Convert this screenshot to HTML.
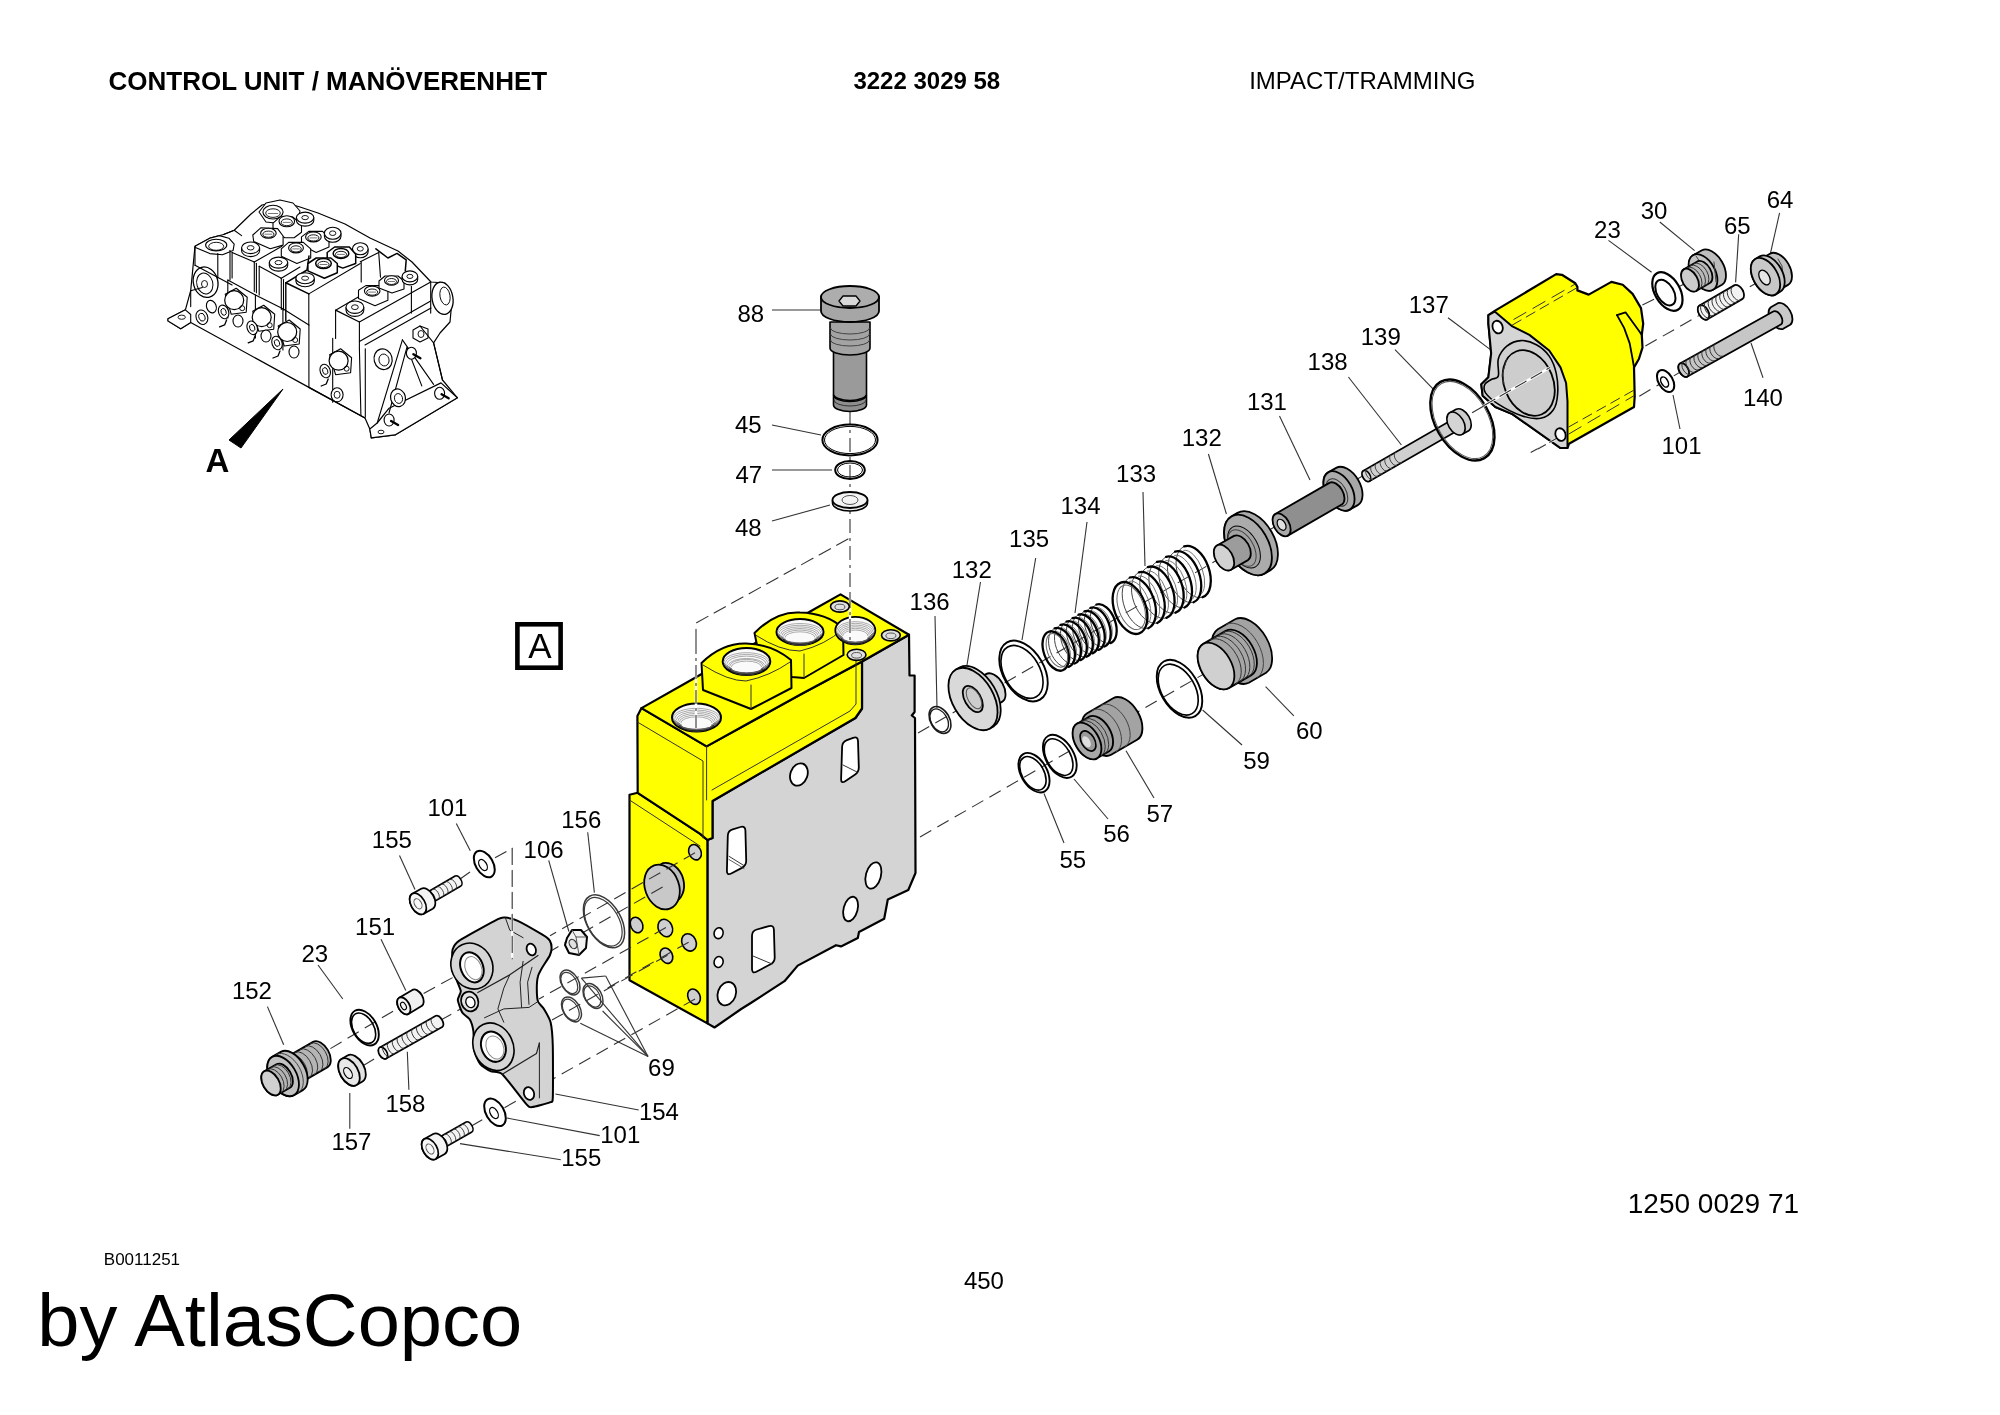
<!DOCTYPE html>
<html><head><meta charset="utf-8"><style>
html,body{margin:0;padding:0;background:#fff;}
svg{display:block;}
text{font-family:"Liberation Sans",sans-serif;fill:#000;}
</style></head><body>
<svg width="2000" height="1415" viewBox="0 0 2000 1415">
<rect width="2000" height="1415" fill="#fff"/>
<line x1="772.0" y1="310.0" x2="820.0" y2="310.0" stroke="#333" stroke-width="1.1" />
<line x1="772.0" y1="425.0" x2="821.0" y2="435.0" stroke="#333" stroke-width="1.1" />
<line x1="772.0" y1="470.0" x2="832.0" y2="470.0" stroke="#333" stroke-width="1.1" />
<line x1="772.0" y1="521.0" x2="830.0" y2="505.0" stroke="#333" stroke-width="1.1" />
<line x1="1208.4" y1="454.0" x2="1226.4" y2="514.0" stroke="#333" stroke-width="1.1" />
<line x1="1143.0" y1="492.0" x2="1145.0" y2="566.0" stroke="#333" stroke-width="1.1" />
<line x1="1087.0" y1="522.0" x2="1075.0" y2="613.0" stroke="#333" stroke-width="1.1" />
<line x1="1035.7" y1="558.0" x2="1022.0" y2="640.0" stroke="#333" stroke-width="1.1" />
<line x1="980.5" y1="582.0" x2="967.0" y2="665.0" stroke="#333" stroke-width="1.1" />
<line x1="935.0" y1="616.0" x2="937.0" y2="708.0" stroke="#333" stroke-width="1.1" />
<line x1="1265.6" y1="686.6" x2="1293.8" y2="715.9" stroke="#333" stroke-width="1.1" />
<line x1="1202.6" y1="710.0" x2="1242.0" y2="745.0" stroke="#333" stroke-width="1.1" />
<line x1="1126.0" y1="750.8" x2="1154.0" y2="798.0" stroke="#333" stroke-width="1.1" />
<line x1="1074.0" y1="779.0" x2="1108.0" y2="819.0" stroke="#333" stroke-width="1.1" />
<line x1="1044.0" y1="793.5" x2="1064.0" y2="843.0" stroke="#333" stroke-width="1.1" />
<line x1="1448.0" y1="317.8" x2="1490.4" y2="349.6" stroke="#333" stroke-width="1.1" />
<line x1="1395.0" y1="349.6" x2="1433.0" y2="388.8" stroke="#333" stroke-width="1.1" />
<line x1="1348.4" y1="377.0" x2="1401.4" y2="445.0" stroke="#333" stroke-width="1.1" />
<line x1="1279.5" y1="416.0" x2="1310.0" y2="480.0" stroke="#333" stroke-width="1.1" />
<line x1="1779.6" y1="212.8" x2="1769.4" y2="257.9" stroke="#333" stroke-width="1.1" />
<line x1="1659.8" y1="222.0" x2="1694.6" y2="250.7" stroke="#333" stroke-width="1.1" />
<line x1="1738.7" y1="234.3" x2="1735.6" y2="282.4" stroke="#333" stroke-width="1.1" />
<line x1="1608.5" y1="240.4" x2="1651.6" y2="272.2" stroke="#333" stroke-width="1.1" />
<line x1="1751.0" y1="343.0" x2="1763.0" y2="377.7" stroke="#333" stroke-width="1.1" />
<line x1="1673.0" y1="395.0" x2="1680.0" y2="429.0" stroke="#333" stroke-width="1.1" />
<line x1="456.3" y1="823.5" x2="470.3" y2="850.7" stroke="#333" stroke-width="1.1" />
<line x1="399.5" y1="855.4" x2="415.0" y2="889.6" stroke="#333" stroke-width="1.1" />
<line x1="381.0" y1="939.3" x2="405.8" y2="990.6" stroke="#333" stroke-width="1.1" />
<line x1="318.0" y1="965.0" x2="342.8" y2="999.0" stroke="#333" stroke-width="1.1" />
<line x1="267.4" y1="1006.6" x2="283.7" y2="1044.7" stroke="#333" stroke-width="1.1" />
<line x1="407.3" y1="1051.7" x2="408.9" y2="1089.8" stroke="#333" stroke-width="1.1" />
<line x1="349.8" y1="1093.0" x2="349.8" y2="1128.7" stroke="#333" stroke-width="1.1" />
<line x1="587.7" y1="832.2" x2="594.4" y2="892.6" stroke="#333" stroke-width="1.1" />
<line x1="548.7" y1="860.4" x2="568.9" y2="931.5" stroke="#333" stroke-width="1.1" />
<line x1="555.4" y1="1094.0" x2="638.7" y2="1110.0" stroke="#333" stroke-width="1.1" />
<line x1="507.0" y1="1118.0" x2="599.7" y2="1135.6" stroke="#333" stroke-width="1.1" />
<line x1="460.0" y1="1143.6" x2="560.8" y2="1159.7" stroke="#333" stroke-width="1.1" />
<line x1="648.0" y1="1056.4" x2="581.4" y2="978.1" stroke="#333" stroke-width="1.1" />
<line x1="648.0" y1="1056.4" x2="605.7" y2="976.0" stroke="#333" stroke-width="1.1" />
<line x1="581.4" y1="978.1" x2="605.7" y2="976.0" stroke="#333" stroke-width="1.1" />
<line x1="648.0" y1="1056.4" x2="602.6" y2="1011.0" stroke="#333" stroke-width="1.1" />
<line x1="648.0" y1="1056.4" x2="580.3" y2="1023.2" stroke="#333" stroke-width="1.1" />
<rect x="517.4" y="624.3" width="43.2" height="43.4" fill="none" stroke="#000" stroke-width="4.6"/>
<polygon points="168.0,318.8 185.4,309.8 190.7,290.7 195.0,246.2 209.8,238.2 223.6,234.5 234.2,230.3 251.0,214.0 262.0,205.0 280.0,201.0 300.0,207.0 318.0,213.0 345.0,224.0 370.0,238.0 398.0,251.0 412.0,262.0 431.0,282.0 445.0,283.0 452.0,300.0 450.0,322.0 440.0,333.0 433.6,342.8 442.5,380.0 457.4,397.8 395.0,434.9 371.3,437.9 369.8,429.0 365.0,418.0 308.9,387.4 190.7,322.5 180.7,328.8 168.0,320.9" fill="#fff" stroke="#000" stroke-width="1.2" stroke-linejoin="round" />
<polygon points="195.0,246.2 209.8,238.2 219.4,235.6 228.9,238.2 234.2,244.1 233.1,250.4 222.5,254.7 209.8,253.6 196.0,247.8" fill="#fff" stroke="#000" stroke-width="1.1" stroke-linejoin="round" />
<ellipse cx="216.2" cy="245.1" rx="10.6" ry="5.8" transform="rotate(0.0 216.2 245.1)" fill="#fff" stroke="#000" stroke-width="1.1"/>
<ellipse cx="216.2" cy="246.3" rx="7.5" ry="4.0" transform="rotate(0.0 216.2 246.3)" fill="none" stroke="#000" stroke-width="0.9"/>
<polyline points="195.0,247.2 195.0,265.3" fill="none" stroke="#000" stroke-width="1.1" stroke-linejoin="round" stroke-linecap="round" />
<polyline points="217.8,253.6 217.8,278.0" fill="none" stroke="#000" stroke-width="1.1" stroke-linejoin="round" stroke-linecap="round" />
<polyline points="230.0,250.4 230.0,280.0" fill="none" stroke="#000" stroke-width="1.1" stroke-linejoin="round" stroke-linecap="round" />
<polyline points="223.6,234.5 234.2,230.3 241.6,235.6" fill="none" stroke="#000" stroke-width="1.1" stroke-linejoin="round" stroke-linecap="round" />
<ellipse cx="205.6" cy="282.2" rx="12.2" ry="15.4" transform="rotate(-15.0 205.6 282.2)" fill="#fff" stroke="#000" stroke-width="1.3"/>
<ellipse cx="204.8" cy="283.5" rx="8.0" ry="10.6" transform="rotate(-15.0 204.8 283.5)" fill="none" stroke="#000" stroke-width="1.0"/>
<ellipse cx="204.5" cy="284.0" rx="3.0" ry="3.5" transform="rotate(0.0 204.5 284.0)" fill="none" stroke="#000" stroke-width="0.9"/>
<polyline points="190.7,290.7 190.7,306.6" fill="none" stroke="#000" stroke-width="1.1" stroke-linejoin="round" stroke-linecap="round" />
<polyline points="190.7,290.7 202.4,287.5" fill="none" stroke="#000" stroke-width="1.1" stroke-linejoin="round" stroke-linecap="round" />
<polygon points="168.0,318.8 185.4,309.8 190.7,314.5 190.7,322.5 180.7,328.8 168.0,320.9" fill="#fff" stroke="#000" stroke-width="1.1" stroke-linejoin="round" />
<ellipse cx="181.7" cy="317.2" rx="3.7" ry="2.1" transform="rotate(0.0 181.7 317.2)" fill="none" stroke="#000" stroke-width="0.9"/>
<ellipse cx="211.4" cy="306.6" rx="4.8" ry="6.4" transform="rotate(-20.0 211.4 306.6)" fill="#fff" stroke="#000" stroke-width="1.1"/>
<ellipse cx="201.9" cy="317.2" rx="5.8" ry="7.4" transform="rotate(-20.0 201.9 317.2)" fill="#fff" stroke="#000" stroke-width="1.1"/>
<ellipse cx="201.9" cy="317.2" rx="3.0" ry="4.0" transform="rotate(-20.0 201.9 317.2)" fill="none" stroke="#000" stroke-width="0.9"/>
<polygon points="259.0,212.0 266.0,203.0 280.0,200.0 293.0,203.0 300.0,211.0 298.0,220.0 284.0,224.0 266.0,222.0" fill="#fff" stroke="#000" stroke-width="1.1" stroke-linejoin="round" />
<ellipse cx="273.0" cy="212.1" rx="10.1" ry="6.9" transform="rotate(0.0 273.0 212.1)" fill="#fff" stroke="#000" stroke-width="1.1"/>
<ellipse cx="273.0" cy="213.1" rx="7.3" ry="4.3" transform="rotate(0.0 273.0 213.1)" fill="none" stroke="#000" stroke-width="0.9"/>
<line x1="267.9" y1="213.5" x2="278.1" y2="213.5" stroke="#555" stroke-width="0.8" />
<polygon points="273.0,223.1 280.3,216.7 292.3,216.7 301.5,224.0 301.5,232.3 294.1,237.8 284.9,237.8 273.0,230.4" fill="#fff" stroke="#000" stroke-width="1.1" stroke-linejoin="round" />
<ellipse cx="286.8" cy="221.3" rx="7.8" ry="5.5" transform="rotate(0.0 286.8 221.3)" fill="#fff" stroke="#000" stroke-width="1.1"/>
<ellipse cx="286.8" cy="222.3" rx="5.6" ry="3.4" transform="rotate(0.0 286.8 222.3)" fill="none" stroke="#000" stroke-width="0.9"/>
<line x1="282.9" y1="222.4" x2="290.7" y2="222.4" stroke="#555" stroke-width="0.8" />
<path d="M296.4,217.6 L296.4,220.6 A8.7,5.5 0 0 0 313.8,220.6 L313.8,217.6" fill="#fff" stroke="#000" stroke-width="1.1" stroke-linejoin="round" />
<ellipse cx="305.1" cy="217.6" rx="8.7" ry="5.5" transform="rotate(0.0 305.1 217.6)" fill="#fff" stroke="#000" stroke-width="1.1"/>
<ellipse cx="305.1" cy="217.6" rx="3.3" ry="2.1" transform="rotate(0.0 305.1 217.6)" fill="none" stroke="#000" stroke-width="0.9"/>
<polygon points="252.8,235.0 261.0,227.7 277.6,228.6 283.1,236.0 283.1,245.1 270.2,248.8 253.7,241.5" fill="#fff" stroke="#000" stroke-width="1.1" stroke-linejoin="round" />
<ellipse cx="268.4" cy="233.2" rx="7.8" ry="5.0" transform="rotate(0.0 268.4 233.2)" fill="#fff" stroke="#000" stroke-width="1.1"/>
<ellipse cx="268.4" cy="234.2" rx="5.6" ry="3.1" transform="rotate(0.0 268.4 234.2)" fill="none" stroke="#000" stroke-width="0.9"/>
<line x1="264.5" y1="234.2" x2="272.3" y2="234.2" stroke="#555" stroke-width="0.8" />
<polygon points="301.5,236.9 308.8,231.4 322.6,231.4 329.0,237.8 329.0,247.0 316.2,252.5 301.5,245.1" fill="#fff" stroke="#000" stroke-width="1.1" stroke-linejoin="round" />
<ellipse cx="313.4" cy="236.9" rx="7.8" ry="5.0" transform="rotate(0.0 313.4 236.9)" fill="#fff" stroke="#000" stroke-width="1.1"/>
<ellipse cx="313.4" cy="237.9" rx="5.6" ry="3.1" transform="rotate(0.0 313.4 237.9)" fill="none" stroke="#000" stroke-width="0.9"/>
<line x1="309.5" y1="237.9" x2="317.3" y2="237.9" stroke="#555" stroke-width="0.8" />
<path d="M324.4,233.2 L324.4,236.2 A8.3,6.0 0 0 0 341.0,236.2 L341.0,233.2" fill="#fff" stroke="#000" stroke-width="1.1" stroke-linejoin="round" />
<ellipse cx="332.7" cy="233.2" rx="8.3" ry="6.0" transform="rotate(0.0 332.7 233.2)" fill="#fff" stroke="#000" stroke-width="1.1"/>
<ellipse cx="332.7" cy="233.2" rx="3.2" ry="2.3" transform="rotate(0.0 332.7 233.2)" fill="none" stroke="#000" stroke-width="0.9"/>
<path d="M241.6,247.8 L241.6,250.8 A9.0,5.8 0 0 0 259.6,250.8 L259.6,247.8" fill="#fff" stroke="#000" stroke-width="1.1" stroke-linejoin="round" />
<ellipse cx="250.6" cy="247.8" rx="9.0" ry="5.8" transform="rotate(0.0 250.6 247.8)" fill="#fff" stroke="#000" stroke-width="1.1"/>
<ellipse cx="250.6" cy="247.8" rx="3.4" ry="2.2" transform="rotate(0.0 250.6 247.8)" fill="none" stroke="#000" stroke-width="0.9"/>
<polygon points="281.3,248.8 288.6,242.4 303.3,242.4 310.7,248.8 310.7,258.0 296.9,263.5 281.3,256.2" fill="#fff" stroke="#000" stroke-width="1.1" stroke-linejoin="round" />
<ellipse cx="296.0" cy="247.9" rx="7.4" ry="5.0" transform="rotate(0.0 296.0 247.9)" fill="#fff" stroke="#000" stroke-width="1.1"/>
<ellipse cx="296.0" cy="248.9" rx="5.3" ry="3.1" transform="rotate(0.0 296.0 248.9)" fill="none" stroke="#000" stroke-width="0.9"/>
<line x1="292.3" y1="248.9" x2="299.7" y2="248.9" stroke="#555" stroke-width="0.8" />
<path d="M269.3,262.6 L269.3,265.6 A9.2,5.5 0 0 0 287.7,265.6 L287.7,262.6" fill="#fff" stroke="#000" stroke-width="1.1" stroke-linejoin="round" />
<ellipse cx="278.5" cy="262.6" rx="9.2" ry="5.5" transform="rotate(0.0 278.5 262.6)" fill="#fff" stroke="#000" stroke-width="1.1"/>
<ellipse cx="278.5" cy="262.6" rx="3.5" ry="2.1" transform="rotate(0.0 278.5 262.6)" fill="none" stroke="#000" stroke-width="0.9"/>
<path d="M352.5,248.8 L352.5,251.8 A7.8,6.0 0 0 0 368.1,251.8 L368.1,248.8" fill="#fff" stroke="#000" stroke-width="1.1" stroke-linejoin="round" />
<ellipse cx="360.3" cy="248.8" rx="7.8" ry="6.0" transform="rotate(0.0 360.3 248.8)" fill="#fff" stroke="#000" stroke-width="1.1"/>
<ellipse cx="360.3" cy="248.8" rx="3.0" ry="2.3" transform="rotate(0.0 360.3 248.8)" fill="none" stroke="#000" stroke-width="0.9"/>
<polyline points="232.1,252.5 254.3,262.1" fill="none" stroke="#000" stroke-width="1.1" stroke-linejoin="round" stroke-linecap="round" />
<polyline points="232.1,252.5 232.1,278.0" fill="none" stroke="#000" stroke-width="1.1" stroke-linejoin="round" stroke-linecap="round" />
<polyline points="254.3,262.1 254.3,291.6" fill="none" stroke="#000" stroke-width="1.1" stroke-linejoin="round" stroke-linecap="round" />
<polyline points="256.4,263.2 256.4,292.7" fill="none" stroke="#000" stroke-width="1.1" stroke-linejoin="round" stroke-linecap="round" />
<polyline points="254.3,262.1 281.9,246.2" fill="none" stroke="#000" stroke-width="1.1" stroke-linejoin="round" stroke-linecap="round" />
<polyline points="259.2,266.3 281.3,278.2" fill="none" stroke="#000" stroke-width="1.1" stroke-linejoin="round" stroke-linecap="round" />
<polyline points="259.2,266.3 259.2,295.0" fill="none" stroke="#000" stroke-width="1.1" stroke-linejoin="round" stroke-linecap="round" />
<polyline points="281.3,278.2 281.3,309.5" fill="none" stroke="#000" stroke-width="1.1" stroke-linejoin="round" stroke-linecap="round" />
<polyline points="283.5,279.5 283.5,310.0" fill="none" stroke="#000" stroke-width="1.1" stroke-linejoin="round" stroke-linecap="round" />
<polyline points="281.3,278.2 300.0,267.0" fill="none" stroke="#000" stroke-width="1.1" stroke-linejoin="round" stroke-linecap="round" />
<polyline points="285.8,282.8 308.8,293.9" fill="none" stroke="#000" stroke-width="1.5" stroke-linejoin="round" stroke-linecap="round" />
<polyline points="285.8,282.8 285.8,320.5" fill="none" stroke="#000" stroke-width="1.4" stroke-linejoin="round" stroke-linecap="round" />
<polyline points="308.8,293.9 308.8,325.0" fill="none" stroke="#000" stroke-width="1.1" stroke-linejoin="round" stroke-linecap="round" />
<polyline points="308.8,293.9 360.3,263.5" fill="none" stroke="#000" stroke-width="1.1" stroke-linejoin="round" stroke-linecap="round" />
<polyline points="285.8,282.8 307.0,270.0 309.0,256.0" fill="none" stroke="#000" stroke-width="1.5" stroke-linejoin="round" stroke-linecap="round" />
<polygon points="327.2,252.5 334.6,247.0 349.3,247.0 355.7,254.3 355.7,263.5 342.8,268.1 327.2,261.7" fill="#fff" stroke="#000" stroke-width="1.5" stroke-linejoin="round" />
<ellipse cx="341.0" cy="253.4" rx="7.8" ry="5.0" transform="rotate(0.0 341.0 253.4)" fill="#fff" stroke="#000" stroke-width="1.5"/>
<ellipse cx="341.0" cy="254.4" rx="5.6" ry="3.1" transform="rotate(0.0 341.0 254.4)" fill="none" stroke="#000" stroke-width="0.9"/>
<line x1="337.1" y1="254.4" x2="344.9" y2="254.4" stroke="#555" stroke-width="0.8" />
<polygon points="307.9,263.5 316.2,258.0 330.9,258.0 337.3,263.5 337.3,272.7 324.4,278.2 307.9,270.9" fill="#fff" stroke="#000" stroke-width="1.5" stroke-linejoin="round" />
<ellipse cx="323.5" cy="263.5" rx="7.8" ry="5.0" transform="rotate(0.0 323.5 263.5)" fill="#fff" stroke="#000" stroke-width="1.5"/>
<ellipse cx="323.5" cy="264.5" rx="5.6" ry="3.1" transform="rotate(0.0 323.5 264.5)" fill="none" stroke="#000" stroke-width="0.9"/>
<line x1="319.6" y1="264.5" x2="327.4" y2="264.5" stroke="#555" stroke-width="0.8" />
<path d="M295.9,278.2 L295.9,281.2 A9.2,5.5 0 0 0 314.3,281.2 L314.3,278.2" fill="#fff" stroke="#000" stroke-width="1.1" stroke-linejoin="round" />
<ellipse cx="305.1" cy="278.2" rx="9.2" ry="5.5" transform="rotate(0.0 305.1 278.2)" fill="#fff" stroke="#000" stroke-width="1.1"/>
<ellipse cx="305.1" cy="278.2" rx="3.5" ry="2.1" transform="rotate(0.0 305.1 278.2)" fill="none" stroke="#000" stroke-width="0.9"/>
<polyline points="361.2,261.7 361.2,281.9" fill="none" stroke="#000" stroke-width="1.1" stroke-linejoin="round" stroke-linecap="round" />
<polyline points="360.3,261.7 378.7,252.5" fill="none" stroke="#000" stroke-width="1.1" stroke-linejoin="round" stroke-linecap="round" />
<polyline points="378.7,252.5 380.5,277.3" fill="none" stroke="#000" stroke-width="1.1" stroke-linejoin="round" stroke-linecap="round" />
<polyline points="375.9,248.8 387.9,258.0 397.0,253.4 406.2,259.8 405.3,270.9" fill="none" stroke="#000" stroke-width="1.5" stroke-linejoin="round" stroke-linecap="round" />
<polyline points="335.6,310.2 359.4,322.0" fill="none" stroke="#000" stroke-width="1.3" stroke-linejoin="round" stroke-linecap="round" />
<polyline points="335.6,310.2 335.6,338.4" fill="none" stroke="#000" stroke-width="1.1" stroke-linejoin="round" stroke-linecap="round" />
<polyline points="359.4,322.0 359.4,348.8" fill="none" stroke="#000" stroke-width="1.1" stroke-linejoin="round" stroke-linecap="round" />
<polyline points="359.4,322.0 430.7,282.0" fill="none" stroke="#000" stroke-width="1.1" stroke-linejoin="round" stroke-linecap="round" />
<polyline points="335.6,310.2 360.0,296.0" fill="none" stroke="#000" stroke-width="1.1" stroke-linejoin="round" stroke-linecap="round" />
<path d="M346.0,307.2 L346.0,310.2 A8.9,6.2 0 0 0 363.8,310.2 L363.8,307.2" fill="#fff" stroke="#000" stroke-width="1.1" stroke-linejoin="round" />
<ellipse cx="354.9" cy="307.2" rx="8.9" ry="6.2" transform="rotate(0.0 354.9 307.2)" fill="#fff" stroke="#000" stroke-width="1.1"/>
<ellipse cx="354.9" cy="307.2" rx="3.4" ry="2.4" transform="rotate(0.0 354.9 307.2)" fill="none" stroke="#000" stroke-width="0.9"/>
<polygon points="358.5,290.2 365.8,285.6 380.5,285.6 387.9,291.1 387.9,300.3 375.0,305.8 358.5,298.5" fill="#fff" stroke="#000" stroke-width="1.1" stroke-linejoin="round" />
<ellipse cx="372.2" cy="291.1" rx="7.8" ry="5.0" transform="rotate(0.0 372.2 291.1)" fill="#fff" stroke="#000" stroke-width="1.1"/>
<ellipse cx="372.2" cy="292.1" rx="5.6" ry="3.1" transform="rotate(0.0 372.2 292.1)" fill="none" stroke="#000" stroke-width="0.9"/>
<line x1="368.3" y1="292.1" x2="376.1" y2="292.1" stroke="#555" stroke-width="0.8" />
<polygon points="379.0,281.0 385.0,276.0 398.0,276.0 404.0,281.0 404.0,289.0 392.0,293.0 379.0,288.0" fill="#fff" stroke="#000" stroke-width="1.1" stroke-linejoin="round" />
<ellipse cx="391.5" cy="280.5" rx="7.0" ry="4.8" transform="rotate(0.0 391.5 280.5)" fill="#fff" stroke="#000" stroke-width="1.1"/>
<ellipse cx="391.5" cy="281.5" rx="5.0" ry="3.0" transform="rotate(0.0 391.5 281.5)" fill="none" stroke="#000" stroke-width="0.9"/>
<line x1="388.0" y1="281.5" x2="395.0" y2="281.5" stroke="#555" stroke-width="0.8" />
<path d="M402.1,276.4 L402.1,279.4 A7.8,5.5 0 0 0 417.7,279.4 L417.7,276.4" fill="#fff" stroke="#000" stroke-width="1.1" stroke-linejoin="round" />
<ellipse cx="409.9" cy="276.4" rx="7.8" ry="5.5" transform="rotate(0.0 409.9 276.4)" fill="#fff" stroke="#000" stroke-width="1.1"/>
<ellipse cx="409.9" cy="276.4" rx="3.0" ry="2.1" transform="rotate(0.0 409.9 276.4)" fill="none" stroke="#000" stroke-width="0.9"/>
<polyline points="411.4,286.4 411.4,313.1" fill="none" stroke="#000" stroke-width="1.1" stroke-linejoin="round" stroke-linecap="round" />
<polyline points="430.7,282.0 430.7,313.1" fill="none" stroke="#000" stroke-width="1.1" stroke-linejoin="round" stroke-linecap="round" />
<polyline points="359.4,341.4 430.7,301.0" fill="none" stroke="#000" stroke-width="1.1" stroke-linejoin="round" stroke-linecap="round" />
<polyline points="365.0,345.0 431.0,308.0" fill="none" stroke="#000" stroke-width="1.1" stroke-linejoin="round" stroke-linecap="round" />
<ellipse cx="442.5" cy="298.3" rx="10.4" ry="16.3" transform="rotate(-10.0 442.5 298.3)" fill="#fff" stroke="#000" stroke-width="1.3"/>
<ellipse cx="445.0" cy="296.0" rx="5.0" ry="9.0" transform="rotate(-10.0 445.0 296.0)" fill="none" stroke="#000" stroke-width="0.9"/>
<polygon points="413.0,330.0 420.0,326.0 428.0,329.0 428.0,338.0 420.0,342.0 413.0,338.0" fill="#fff" stroke="#000" stroke-width="1.1" stroke-linejoin="round" />
<ellipse cx="421.0" cy="334.0" rx="3.0" ry="3.5" transform="rotate(0.0 421.0 334.0)" fill="none" stroke="#000" stroke-width="0.9"/>
<polyline points="195.0,265.3 232.1,285.0" fill="none" stroke="#000" stroke-width="1.1" stroke-linejoin="round" stroke-linecap="round" />
<polyline points="227.8,280.1 255.4,294.9 282.9,308.7 308.9,325.0" fill="none" stroke="#000" stroke-width="1.1" stroke-linejoin="round" stroke-linecap="round" />
<polyline points="308.9,325.0 308.9,387.4" fill="none" stroke="#000" stroke-width="1.1" stroke-linejoin="round" stroke-linecap="round" />
<polyline points="332.7,338.4 332.7,402.2" fill="none" stroke="#000" stroke-width="1.1" stroke-linejoin="round" stroke-linecap="round" />
<polyline points="359.4,348.8 360.9,415.6" fill="none" stroke="#000" stroke-width="1.1" stroke-linejoin="round" stroke-linecap="round" />
<polyline points="365.3,348.8 365.3,417.0" fill="none" stroke="#000" stroke-width="1.1" stroke-linejoin="round" stroke-linecap="round" />
<polyline points="282.9,308.7 282.9,350.0" fill="none" stroke="#000" stroke-width="1.1" stroke-linejoin="round" stroke-linecap="round" />
<polyline points="255.4,294.9 255.4,338.0" fill="none" stroke="#000" stroke-width="1.1" stroke-linejoin="round" stroke-linecap="round" />
<polyline points="227.8,280.1 227.8,318.0" fill="none" stroke="#000" stroke-width="1.1" stroke-linejoin="round" stroke-linecap="round" />
<path d="M225.2,294.2 L236.2,288.2 L247.2,297.2 L246.2,312.2 L231.2,314.2 Z" fill="#fff" stroke="#000" stroke-width="1.1" stroke-linejoin="round" />
<ellipse cx="234.2" cy="300.2" rx="9.5" ry="9.5" transform="rotate(0.0 234.2 300.2)" fill="#fff" stroke="#000" stroke-width="1.2"/>
<ellipse cx="223.6" cy="311.9" rx="5.0" ry="7.0" transform="rotate(-20.0 223.6 311.9)" fill="#fff" stroke="#000" stroke-width="1.1"/>
<ellipse cx="223.6" cy="311.9" rx="2.5" ry="3.5" transform="rotate(-20.0 223.6 311.9)" fill="none" stroke="#000" stroke-width="0.9"/>
<polyline points="226.6,319.9 224.6,324.9 219.6,326.9" fill="none" stroke="#000" stroke-width="1.3" stroke-linejoin="round" stroke-linecap="round" />
<ellipse cx="242.2" cy="308.2" rx="2.5" ry="2.5" transform="rotate(0.0 242.2 308.2)" fill="none" stroke="#000" stroke-width="0.9"/>
<path d="M252.7,311.2 L263.7,305.2 L274.7,314.2 L273.7,329.2 L258.7,331.2 Z" fill="#fff" stroke="#000" stroke-width="1.1" stroke-linejoin="round" />
<ellipse cx="261.7" cy="317.2" rx="9.5" ry="9.5" transform="rotate(0.0 261.7 317.2)" fill="#fff" stroke="#000" stroke-width="1.2"/>
<ellipse cx="252.2" cy="327.8" rx="5.0" ry="7.0" transform="rotate(-20.0 252.2 327.8)" fill="#fff" stroke="#000" stroke-width="1.1"/>
<ellipse cx="252.2" cy="327.8" rx="2.5" ry="3.5" transform="rotate(-20.0 252.2 327.8)" fill="none" stroke="#000" stroke-width="0.9"/>
<polyline points="255.2,335.8 253.2,340.8 248.2,342.8" fill="none" stroke="#000" stroke-width="1.3" stroke-linejoin="round" stroke-linecap="round" />
<ellipse cx="269.7" cy="325.2" rx="2.5" ry="2.5" transform="rotate(0.0 269.7 325.2)" fill="none" stroke="#000" stroke-width="0.9"/>
<path d="M278.2,326.0 L289.2,320.0 L300.2,329.0 L299.2,344.0 L284.2,346.0 Z" fill="#fff" stroke="#000" stroke-width="1.1" stroke-linejoin="round" />
<ellipse cx="287.2" cy="332.0" rx="9.5" ry="9.5" transform="rotate(0.0 287.2 332.0)" fill="#fff" stroke="#000" stroke-width="1.2"/>
<ellipse cx="277.0" cy="343.0" rx="5.0" ry="7.0" transform="rotate(-20.0 277.0 343.0)" fill="#fff" stroke="#000" stroke-width="1.1"/>
<ellipse cx="277.0" cy="343.0" rx="2.5" ry="3.5" transform="rotate(-20.0 277.0 343.0)" fill="none" stroke="#000" stroke-width="0.9"/>
<polyline points="280.0,351.0 278.0,356.0 273.0,358.0" fill="none" stroke="#000" stroke-width="1.3" stroke-linejoin="round" stroke-linecap="round" />
<ellipse cx="295.2" cy="340.0" rx="2.5" ry="2.5" transform="rotate(0.0 295.2 340.0)" fill="none" stroke="#000" stroke-width="0.9"/>
<path d="M329.6,354.7 L340.6,348.7 L351.6,357.7 L350.6,372.7 L335.6,374.7 Z" fill="#fff" stroke="#000" stroke-width="1.1" stroke-linejoin="round" />
<ellipse cx="338.6" cy="360.7" rx="9.5" ry="9.5" transform="rotate(0.0 338.6 360.7)" fill="#fff" stroke="#000" stroke-width="1.2"/>
<ellipse cx="325.2" cy="371.0" rx="5.0" ry="7.0" transform="rotate(-20.0 325.2 371.0)" fill="#fff" stroke="#000" stroke-width="1.1"/>
<ellipse cx="325.2" cy="371.0" rx="2.5" ry="3.5" transform="rotate(-20.0 325.2 371.0)" fill="none" stroke="#000" stroke-width="0.9"/>
<polyline points="328.2,379.0 326.2,384.0 321.2,386.0" fill="none" stroke="#000" stroke-width="1.3" stroke-linejoin="round" stroke-linecap="round" />
<ellipse cx="346.6" cy="368.7" rx="2.5" ry="2.5" transform="rotate(0.0 346.6 368.7)" fill="none" stroke="#000" stroke-width="0.9"/>
<ellipse cx="337.1" cy="394.8" rx="6.0" ry="7.0" transform="rotate(0.0 337.1 394.8)" fill="#fff" stroke="#000" stroke-width="1.1"/>
<ellipse cx="337.1" cy="394.8" rx="3.0" ry="3.5" transform="rotate(0.0 337.1 394.8)" fill="none" stroke="#000" stroke-width="0.9"/>
<ellipse cx="238.0" cy="321.0" rx="5.0" ry="6.0" transform="rotate(0.0 238.0 321.0)" fill="#fff" stroke="#000" stroke-width="1.1"/>
<ellipse cx="266.0" cy="336.0" rx="5.0" ry="6.0" transform="rotate(0.0 266.0 336.0)" fill="#fff" stroke="#000" stroke-width="1.1"/>
<ellipse cx="294.0" cy="352.0" rx="5.0" ry="6.0" transform="rotate(0.0 294.0 352.0)" fill="#fff" stroke="#000" stroke-width="1.1"/>
<polyline points="308.9,387.4 365.0,418.0" fill="none" stroke="#000" stroke-width="1.2" stroke-linejoin="round" stroke-linecap="round" />
<polygon points="377.2,423.0 389.1,408.2 441.0,382.9 457.4,397.8 395.0,434.9 371.3,437.9 369.8,429.0" fill="#fff" stroke="#000" stroke-width="1.2" stroke-linejoin="round" />
<polyline points="377.2,423.0 402.4,339.9" fill="none" stroke="#000" stroke-width="1.1" stroke-linejoin="round" stroke-linecap="round" />
<polyline points="402.4,339.9 433.6,384.4" fill="none" stroke="#000" stroke-width="1.1" stroke-linejoin="round" stroke-linecap="round" />
<polyline points="389.0,413.0 406.9,347.3 421.8,385.9" fill="none" stroke="#000" stroke-width="1.1" stroke-linejoin="round" stroke-linecap="round" />
<polyline points="433.6,342.8 442.5,380.0" fill="none" stroke="#000" stroke-width="1.1" stroke-linejoin="round" stroke-linecap="round" />
<polyline points="420.0,326.0 433.6,342.8" fill="none" stroke="#000" stroke-width="1.1" stroke-linejoin="round" stroke-linecap="round" />
<ellipse cx="383.1" cy="359.2" rx="9.0" ry="10.4" transform="rotate(-15.0 383.1 359.2)" fill="#fff" stroke="#000" stroke-width="1.2"/>
<ellipse cx="384.0" cy="360.0" rx="5.0" ry="6.0" transform="rotate(-15.0 384.0 360.0)" fill="none" stroke="#000" stroke-width="0.9"/>
<ellipse cx="398.0" cy="397.8" rx="7.4" ry="8.9" transform="rotate(-15.0 398.0 397.8)" fill="#fff" stroke="#000" stroke-width="1.2"/>
<ellipse cx="398.5" cy="398.5" rx="4.0" ry="5.0" transform="rotate(-15.0 398.5 398.5)" fill="none" stroke="#000" stroke-width="0.9"/>
<ellipse cx="411.4" cy="353.2" rx="5.0" ry="6.0" transform="rotate(0.0 411.4 353.2)" fill="#fff" stroke="#000" stroke-width="1.1"/>
<polyline points="413.4,354.2 420.4,358.2" fill="none" stroke="#000" stroke-width="2.4" stroke-linejoin="round" stroke-linecap="round" />
<ellipse cx="439.6" cy="393.3" rx="5.0" ry="6.0" transform="rotate(0.0 439.6 393.3)" fill="#fff" stroke="#000" stroke-width="1.1"/>
<polyline points="441.6,394.3 448.6,398.3" fill="none" stroke="#000" stroke-width="2.4" stroke-linejoin="round" stroke-linecap="round" />
<ellipse cx="389.1" cy="420.0" rx="5.0" ry="6.0" transform="rotate(0.0 389.1 420.0)" fill="#fff" stroke="#000" stroke-width="1.1"/>
<polyline points="391.1,421.0 398.1,425.0" fill="none" stroke="#000" stroke-width="2.4" stroke-linejoin="round" stroke-linecap="round" />
<ellipse cx="381.0" cy="432.0" rx="3.0" ry="1.8" transform="rotate(0.0 381.0 432.0)" fill="none" stroke="#000" stroke-width="0.9"/>
<polygon points="283.0,389.0 229.0,440.0 241.0,448.0" fill="#000" stroke="#000" stroke-width="1" stroke-linejoin="round" />
<line x1="850.0" y1="411.0" x2="850.0" y2="594.0" stroke="#333" stroke-width="1.1" stroke-dasharray="14 5 3 5"/>
<polyline points="848.0,539.0 696.0,623.0 696.0,717.0" fill="none" stroke="#333" stroke-width="1.1" stroke-linejoin="round" stroke-linecap="round" stroke-dasharray="13 7"/>
<line x1="918.0" y1="733.0" x2="1610.0" y2="333.0" stroke="#333" stroke-width="1.1" stroke-dasharray="13 7"/>
<line x1="920.0" y1="837.0" x2="1219.5" y2="665.0" stroke="#333" stroke-width="1.1" stroke-dasharray="13 7"/>
<line x1="1642.4" y1="305.0" x2="1691.5" y2="280.4" stroke="#333" stroke-width="1.1" stroke-dasharray="13 7"/>
<line x1="1645.4" y1="346.0" x2="1761.0" y2="280.4" stroke="#333" stroke-width="1.1" stroke-dasharray="13 7"/>
<line x1="1639.3" y1="396.2" x2="1683.7" y2="370.0" stroke="#333" stroke-width="1.1" stroke-dasharray="13 7"/>
<line x1="1530.7" y1="452.5" x2="1566.5" y2="433.0" stroke="#333" stroke-width="1.1" stroke-dasharray="13 7"/>
<polygon points="862.0,661.5 909.0,634.7 909.5,675.5 914.6,675.5 914.6,712.0 911.8,715.5 915.0,718.0 915.5,873.0 908.3,890.0 887.8,899.5 884.2,918.8 859.0,932.0 857.8,938.0 841.0,946.4 836.0,945.2 797.7,965.6 784.5,981.2 750.8,1003.0 741.2,1009.0 714.5,1027.5 707.4,1023.4 707.4,840.0 712.5,838.0 712.5,801.0 855.4,718.0 862.0,708.5" fill="#d4d4d4" stroke="#000" stroke-width="2.2" stroke-linejoin="round" />
<polygon points="629.5,794.8 637.7,792.8 700.2,833.8 707.4,840.0 707.4,1023.4 629.5,980.3" fill="#ffff00" stroke="#000" stroke-width="2.2" stroke-linejoin="round" />
<polygon points="637.4,716.0 641.5,708.1 706.6,746.4 800.0,694.7 862.0,661.5 862.0,708.5 855.4,718.0 712.5,801.0 712.5,838.0 707.4,840.0 700.2,833.8 637.7,792.8" fill="#ffff00" stroke="#000" stroke-width="2.2" stroke-linejoin="round" />
<polygon points="641.5,708.1 692.5,679.3 809.7,611.8 840.5,594.4 909.0,634.7 862.0,661.5 800.0,694.7 706.6,746.4" fill="#ffff00" stroke="#000" stroke-width="2.2" stroke-linejoin="round" />
<polyline points="637.4,722.0 703.0,761.0 703.0,838.0" fill="none" stroke="#333" stroke-width="1" stroke-linejoin="round" stroke-linecap="round" />
<polyline points="706.6,746.4 706.6,800.0" fill="none" stroke="#333" stroke-width="1" stroke-linejoin="round" stroke-linecap="round" />
<polyline points="712.0,790.0 850.0,711.0 856.0,704.0 856.0,661.0" fill="none" stroke="#333" stroke-width="1" stroke-linejoin="round" stroke-linecap="round" />
<polyline points="629.5,800.0 700.0,846.0" fill="none" stroke="#333" stroke-width="1" stroke-linejoin="round" stroke-linecap="round" />
<path d="M754.5,633 Q776,611 800,612.5 Q826,613 843,628 L843.5,655 L804,678 L792,677 L760,660 Z" fill="#ffff00" stroke="#000" stroke-width="2" stroke-linejoin="round" />
<path d="M755.5,635 Q780,651 800,651 Q825,645 842.5,629.5" fill="none" stroke="#333" stroke-width="1" stroke-linejoin="round" />
<polyline points="804.0,654.0 804.0,678.0" fill="none" stroke="#333" stroke-width="1" stroke-linejoin="round" stroke-linecap="round" />
<ellipse cx="800.0" cy="632.0" rx="23.5" ry="13.0" transform="rotate(0.0 800.0 632.0)" fill="#fafafa" stroke="#000" stroke-width="2"/>
<path d="M777.9,633.1 A22.1,9.8 0 0 0 822.1,633.1" fill="none" stroke="#555" stroke-width="0.8" stroke-linejoin="round" />
<path d="M777.9,632.1 A22.1,8.6 0 0 1 822.1,632.1" fill="none" stroke="#888" stroke-width="0.7" stroke-linejoin="round" />
<path d="M779.3,634.2 A20.7,9.2 0 0 0 820.7,634.2" fill="none" stroke="#555" stroke-width="0.8" stroke-linejoin="round" />
<path d="M779.3,633.2 A20.7,8.0 0 0 1 820.7,633.2" fill="none" stroke="#888" stroke-width="0.7" stroke-linejoin="round" />
<path d="M780.7,635.3 A19.3,8.5 0 0 0 819.3,635.3" fill="none" stroke="#555" stroke-width="0.8" stroke-linejoin="round" />
<path d="M780.7,634.3 A19.3,7.5 0 0 1 819.3,634.3" fill="none" stroke="#888" stroke-width="0.7" stroke-linejoin="round" />
<path d="M782.1,636.4 A17.9,7.9 0 0 0 817.9,636.4" fill="none" stroke="#555" stroke-width="0.8" stroke-linejoin="round" />
<path d="M782.1,635.4 A17.9,6.9 0 0 1 817.9,635.4" fill="none" stroke="#888" stroke-width="0.7" stroke-linejoin="round" />
<path d="M783.5,637.5 A16.4,7.3 0 0 0 816.5,637.5" fill="none" stroke="#555" stroke-width="0.8" stroke-linejoin="round" />
<path d="M783.5,636.5 A16.4,6.4 0 0 1 816.5,636.5" fill="none" stroke="#888" stroke-width="0.7" stroke-linejoin="round" />
<path d="M785.0,638.6 A15.0,6.7 0 0 0 815.0,638.6" fill="none" stroke="#555" stroke-width="0.8" stroke-linejoin="round" />
<path d="M785.0,637.6 A15.0,5.8 0 0 1 815.0,637.6" fill="none" stroke="#888" stroke-width="0.7" stroke-linejoin="round" />
<path d="M783.5,639.1 A16.4,5.2 0 0 0 816.5,639.1" fill="none" stroke="#222" stroke-width="1.2" stroke-linejoin="round" />
<path d="M701.5,663 Q722,643 746,643.5 Q772,644 791,660 L791.5,688 L751,709 L703,690 Z" fill="#ffff00" stroke="#000" stroke-width="2" stroke-linejoin="round" />
<path d="M703,665 Q728,681 746,681 Q770,676 790,662" fill="none" stroke="#333" stroke-width="1" stroke-linejoin="round" />
<polyline points="751.0,685.0 751.0,709.0" fill="none" stroke="#333" stroke-width="1" stroke-linejoin="round" stroke-linecap="round" />
<ellipse cx="746.5" cy="661.5" rx="23.8" ry="13.5" transform="rotate(0.0 746.5 661.5)" fill="#fafafa" stroke="#000" stroke-width="2"/>
<path d="M724.2,662.6 A22.3,10.2 0 0 0 768.8,662.6" fill="none" stroke="#555" stroke-width="0.8" stroke-linejoin="round" />
<path d="M724.2,661.6 A22.3,8.9 0 0 1 768.8,661.6" fill="none" stroke="#888" stroke-width="0.7" stroke-linejoin="round" />
<path d="M725.6,663.7 A20.9,9.5 0 0 0 767.4,663.7" fill="none" stroke="#555" stroke-width="0.8" stroke-linejoin="round" />
<path d="M725.6,662.7 A20.9,8.3 0 0 1 767.4,662.7" fill="none" stroke="#888" stroke-width="0.7" stroke-linejoin="round" />
<path d="M727.0,664.8 A19.5,8.9 0 0 0 766.0,664.8" fill="none" stroke="#555" stroke-width="0.8" stroke-linejoin="round" />
<path d="M727.0,663.8 A19.5,7.7 0 0 1 766.0,663.8" fill="none" stroke="#888" stroke-width="0.7" stroke-linejoin="round" />
<path d="M728.5,665.9 A18.1,8.2 0 0 0 764.5,665.9" fill="none" stroke="#555" stroke-width="0.8" stroke-linejoin="round" />
<path d="M728.5,664.9 A18.1,7.2 0 0 1 764.5,664.9" fill="none" stroke="#888" stroke-width="0.7" stroke-linejoin="round" />
<path d="M729.9,667.0 A16.6,7.6 0 0 0 763.1,667.0" fill="none" stroke="#555" stroke-width="0.8" stroke-linejoin="round" />
<path d="M729.9,666.0 A16.6,6.6 0 0 1 763.1,666.0" fill="none" stroke="#888" stroke-width="0.7" stroke-linejoin="round" />
<path d="M731.3,668.1 A15.2,6.9 0 0 0 761.7,668.1" fill="none" stroke="#555" stroke-width="0.8" stroke-linejoin="round" />
<path d="M731.3,667.1 A15.2,6.0 0 0 1 761.7,667.1" fill="none" stroke="#888" stroke-width="0.7" stroke-linejoin="round" />
<path d="M729.9,668.9 A16.6,5.4 0 0 0 763.1,668.9" fill="none" stroke="#222" stroke-width="1.2" stroke-linejoin="round" />
<ellipse cx="696.5" cy="717.5" rx="24.5" ry="14.1" transform="rotate(0.0 696.5 717.5)" fill="#fafafa" stroke="#000" stroke-width="2"/>
<path d="M673.5,718.6 A23.0,10.6 0 0 0 719.5,718.6" fill="none" stroke="#555" stroke-width="0.8" stroke-linejoin="round" />
<path d="M673.5,717.6 A23.0,9.3 0 0 1 719.5,717.6" fill="none" stroke="#888" stroke-width="0.7" stroke-linejoin="round" />
<path d="M674.9,719.7 A21.6,9.9 0 0 0 718.1,719.7" fill="none" stroke="#555" stroke-width="0.8" stroke-linejoin="round" />
<path d="M674.9,718.7 A21.6,8.7 0 0 1 718.1,718.7" fill="none" stroke="#888" stroke-width="0.7" stroke-linejoin="round" />
<path d="M676.4,720.8 A20.1,9.2 0 0 0 716.6,720.8" fill="none" stroke="#555" stroke-width="0.8" stroke-linejoin="round" />
<path d="M676.4,719.8 A20.1,8.1 0 0 1 716.6,719.8" fill="none" stroke="#888" stroke-width="0.7" stroke-linejoin="round" />
<path d="M677.9,721.9 A18.6,8.6 0 0 0 715.1,721.9" fill="none" stroke="#555" stroke-width="0.8" stroke-linejoin="round" />
<path d="M677.9,720.9 A18.6,7.5 0 0 1 715.1,720.9" fill="none" stroke="#888" stroke-width="0.7" stroke-linejoin="round" />
<path d="M679.4,723.0 A17.1,7.9 0 0 0 713.6,723.0" fill="none" stroke="#555" stroke-width="0.8" stroke-linejoin="round" />
<path d="M679.4,722.0 A17.1,6.9 0 0 1 713.6,722.0" fill="none" stroke="#888" stroke-width="0.7" stroke-linejoin="round" />
<path d="M680.8,724.1 A15.7,7.2 0 0 0 712.2,724.1" fill="none" stroke="#555" stroke-width="0.8" stroke-linejoin="round" />
<path d="M680.8,723.1 A15.7,6.3 0 0 1 712.2,723.1" fill="none" stroke="#888" stroke-width="0.7" stroke-linejoin="round" />
<path d="M679.4,725.3 A17.1,5.6 0 0 0 713.6,725.3" fill="none" stroke="#222" stroke-width="1.2" stroke-linejoin="round" />
<ellipse cx="855.3" cy="630.6" rx="20.0" ry="13.8" transform="rotate(0.0 855.3 630.6)" fill="#fafafa" stroke="#000" stroke-width="1.8"/>
<path d="M836.5,631.7 A18.8,10.4 0 0 0 874.1,631.7" fill="none" stroke="#555" stroke-width="0.8" stroke-linejoin="round" />
<path d="M836.5,630.7 A18.8,9.1 0 0 1 874.1,630.7" fill="none" stroke="#888" stroke-width="0.7" stroke-linejoin="round" />
<path d="M837.7,632.8 A17.6,9.7 0 0 0 872.9,632.8" fill="none" stroke="#555" stroke-width="0.8" stroke-linejoin="round" />
<path d="M837.7,631.8 A17.6,8.5 0 0 1 872.9,631.8" fill="none" stroke="#888" stroke-width="0.7" stroke-linejoin="round" />
<path d="M838.9,633.9 A16.4,9.1 0 0 0 871.7,633.9" fill="none" stroke="#555" stroke-width="0.8" stroke-linejoin="round" />
<path d="M838.9,632.9 A16.4,7.9 0 0 1 871.7,632.9" fill="none" stroke="#888" stroke-width="0.7" stroke-linejoin="round" />
<path d="M840.1,635.0 A15.2,8.4 0 0 0 870.5,635.0" fill="none" stroke="#555" stroke-width="0.8" stroke-linejoin="round" />
<path d="M840.1,634.0 A15.2,7.3 0 0 1 870.5,634.0" fill="none" stroke="#888" stroke-width="0.7" stroke-linejoin="round" />
<path d="M841.3,636.1 A14.0,7.7 0 0 0 869.3,636.1" fill="none" stroke="#555" stroke-width="0.8" stroke-linejoin="round" />
<path d="M841.3,635.1 A14.0,6.8 0 0 1 869.3,635.1" fill="none" stroke="#888" stroke-width="0.7" stroke-linejoin="round" />
<path d="M842.5,637.2 A12.8,7.1 0 0 0 868.1,637.2" fill="none" stroke="#555" stroke-width="0.8" stroke-linejoin="round" />
<path d="M842.5,636.2 A12.8,6.2 0 0 1 868.1,636.2" fill="none" stroke="#888" stroke-width="0.7" stroke-linejoin="round" />
<path d="M841.3,638.2 A14.0,5.5 0 0 0 869.3,638.2" fill="none" stroke="#222" stroke-width="1.2" stroke-linejoin="round" />
<line x1="696.0" y1="640.0" x2="696.0" y2="728.0" stroke="#fff" stroke-width="2.4" />
<line x1="696.0" y1="640.0" x2="696.0" y2="728.0" stroke="#333" stroke-width="1.1" stroke-dasharray="14 4 3 4"/>
<line x1="850.0" y1="594.0" x2="850.0" y2="640.0" stroke="#fff" stroke-width="2.4" />
<line x1="850.0" y1="594.0" x2="850.0" y2="640.0" stroke="#333" stroke-width="1.1" stroke-dasharray="14 4 3 4"/>
<ellipse cx="839.9" cy="606.5" rx="9.4" ry="5.6" transform="rotate(0.0 839.9 606.5)" fill="#e0e0e0" stroke="#000" stroke-width="1.6"/>
<ellipse cx="839.9" cy="607.0" rx="5.0" ry="2.8" transform="rotate(0.0 839.9 607.0)" fill="none" stroke="#555" stroke-width="1"/>
<ellipse cx="890.9" cy="635.3" rx="9.4" ry="5.6" transform="rotate(0.0 890.9 635.3)" fill="#e0e0e0" stroke="#000" stroke-width="1.6"/>
<ellipse cx="890.9" cy="635.8" rx="5.0" ry="2.8" transform="rotate(0.0 890.9 635.8)" fill="none" stroke="#555" stroke-width="1"/>
<ellipse cx="856.6" cy="654.8" rx="9.4" ry="5.6" transform="rotate(0.0 856.6 654.8)" fill="#e0e0e0" stroke="#000" stroke-width="1.6"/>
<ellipse cx="856.6" cy="655.3" rx="5.0" ry="2.8" transform="rotate(0.0 856.6 655.3)" fill="none" stroke="#555" stroke-width="1"/>
<ellipse cx="798.9" cy="774.5" rx="8.5" ry="11.5" transform="rotate(20.0 798.9 774.5)" fill="#fff" stroke="#000" stroke-width="1.8"/>
<path d="M842.1,747.0 Q842.2,742.0 846.9,740.2 L853.1,737.8 Q857.8,736.0 858.0,741.0 L858.8,767.0 Q859.0,772.0 854.8,774.8 L845.2,781.2 Q841.0,784.0 841.1,779.0 Z" fill="#fff" stroke="#000" stroke-width="1.8" stroke-linejoin="round" />
<polyline points="843.0,765.0 857.0,772.0" fill="none" stroke="#333" stroke-width="1" stroke-linejoin="round" stroke-linecap="round" />
<path d="M727.8,835.7 Q727.9,830.7 732.7,829.3 L740.5,827.0 Q745.3,825.6 745.4,830.6 L746.2,860.6 Q746.3,865.6 741.9,867.9 L731.2,873.5 Q726.8,875.8 726.9,870.8 Z" fill="#fff" stroke="#000" stroke-width="1.8" stroke-linejoin="round" />
<polyline points="729.0,856.3 744.0,865.6" fill="none" stroke="#333" stroke-width="1" stroke-linejoin="round" stroke-linecap="round" />
<polyline points="729.0,859.5 744.0,868.5" fill="none" stroke="#333" stroke-width="0.8" stroke-linejoin="round" stroke-linecap="round" />
<path d="M752.0,935.8 Q752.0,930.8 756.8,929.5 L768.9,926.1 Q773.7,924.8 773.9,929.8 L774.7,957.0 Q774.9,962.0 770.5,964.3 L756.4,971.7 Q752.0,974.0 752.0,969.0 Z" fill="#fff" stroke="#000" stroke-width="1.8" stroke-linejoin="round" />
<polyline points="753.0,956.0 772.0,964.0" fill="none" stroke="#333" stroke-width="1" stroke-linejoin="round" stroke-linecap="round" />
<ellipse cx="873.4" cy="875.5" rx="7.5" ry="13.5" transform="rotate(15.0 873.4 875.5)" fill="#fff" stroke="#000" stroke-width="1.8"/>
<ellipse cx="850.6" cy="909.0" rx="7.0" ry="12.5" transform="rotate(15.0 850.6 909.0)" fill="#fff" stroke="#000" stroke-width="1.8"/>
<ellipse cx="718.6" cy="933.2" rx="4.5" ry="5.5" transform="rotate(15.0 718.6 933.2)" fill="#fff" stroke="#000" stroke-width="1.6"/>
<ellipse cx="718.6" cy="962.0" rx="4.5" ry="5.5" transform="rotate(15.0 718.6 962.0)" fill="#fff" stroke="#000" stroke-width="1.6"/>
<ellipse cx="726.8" cy="993.7" rx="9.0" ry="12.0" transform="rotate(20.0 726.8 993.7)" fill="#fff" stroke="#000" stroke-width="1.8"/>
<path d="M673.3,902.8 L669.6,904.8 A20.5,16.0 75.0 0 1 659.0,865.2 L662.7,863.2 A20.5,16.0 75.0 0 1 673.3,902.8 Z" fill="#bdbdbd" stroke="#000" stroke-width="1.8" stroke-linejoin="round" />
<ellipse cx="662.0" cy="887.0" rx="17.0" ry="23.0" transform="rotate(-20.0 662.0 887.0)" fill="#c8c8c8" stroke="#000" stroke-width="1.8"/>
<ellipse cx="695.0" cy="852.2" rx="6.0" ry="8.0" transform="rotate(-25.0 695.0 852.2)" fill="#cfcfcf" stroke="#000" stroke-width="1.6"/>
<ellipse cx="636.6" cy="925.0" rx="6.0" ry="8.0" transform="rotate(-25.0 636.6 925.0)" fill="#cfcfcf" stroke="#000" stroke-width="1.6"/>
<ellipse cx="665.3" cy="928.0" rx="7.0" ry="9.0" transform="rotate(-25.0 665.3 928.0)" fill="#cfcfcf" stroke="#000" stroke-width="1.6"/>
<ellipse cx="689.0" cy="942.4" rx="7.0" ry="9.0" transform="rotate(-25.0 689.0 942.4)" fill="#cfcfcf" stroke="#000" stroke-width="1.6"/>
<ellipse cx="666.4" cy="955.7" rx="6.0" ry="8.0" transform="rotate(-25.0 666.4 955.7)" fill="#cfcfcf" stroke="#000" stroke-width="1.6"/>
<ellipse cx="694.0" cy="996.7" rx="6.0" ry="8.0" transform="rotate(-25.0 694.0 996.7)" fill="#cfcfcf" stroke="#000" stroke-width="1.6"/>
<path d="M833.5,395 L833.5,405 A16.5,6.5 0 0 0 866.5,405 L866.5,395 Z" fill="#8e8e8e" stroke="#000" stroke-width="1.6" stroke-linejoin="round" />
<ellipse cx="850.0" cy="395.0" rx="16.5" ry="6.5" transform="rotate(0.0 850.0 395.0)" fill="#9a9a9a" stroke="#000" stroke-width="1.4"/>
<path d="M834,400 A16,6 0 0 0 866,400" fill="none" stroke="#333" stroke-width="1" stroke-linejoin="round" />
<path d="M833.5,346 L833.5,394 A16.5,6.5 0 0 0 866.5,394 L866.5,346 Z" fill="#9a9a9a" stroke="#000" stroke-width="1.6" stroke-linejoin="round" />
<path d="M830,322 L830,348 A20,7 0 0 0 870,348 L870,322 Z" fill="#a3a3a3" stroke="#000" stroke-width="1.6" stroke-linejoin="round" />
<path d="M830.5,328 A19.5,6 0 0 0 869.5,328" fill="none" stroke="#444" stroke-width="1" stroke-linejoin="round" />
<path d="M830.5,334 A19.5,6 0 0 0 869.5,334" fill="none" stroke="#444" stroke-width="1" stroke-linejoin="round" />
<path d="M830.5,340 A19.5,6 0 0 0 869.5,340" fill="none" stroke="#444" stroke-width="1" stroke-linejoin="round" />
<path d="M821,297 L821,311 A29,11 0 0 0 879,311 L879,297 Z" fill="#a6a6a6" stroke="#000" stroke-width="1.8" stroke-linejoin="round" />
<ellipse cx="850.0" cy="297.0" rx="29.0" ry="11.0" transform="rotate(0.0 850.0 297.0)" fill="#adadad" stroke="#000" stroke-width="1.8"/>
<polygon points="839.0,301.0 843.0,296.0 856.0,296.0 860.0,301.0 856.0,306.0 843.0,306.0" fill="#d8d8d8" stroke="#000" stroke-width="1.3" stroke-linejoin="round" />
<ellipse cx="850.0" cy="440.0" rx="27.6" ry="15.4" transform="rotate(0.0 850.0 440.0)" fill="none" stroke="#000" stroke-width="2"/>
<ellipse cx="850.0" cy="440.0" rx="25.5" ry="13.6" transform="rotate(0.0 850.0 440.0)" fill="none" stroke="#000" stroke-width="1"/>
<ellipse cx="850.0" cy="470.0" rx="14.8" ry="9.0" transform="rotate(0.0 850.0 470.0)" fill="none" stroke="#000" stroke-width="2"/>
<ellipse cx="850.0" cy="470.0" rx="12.5" ry="7.0" transform="rotate(0.0 850.0 470.0)" fill="none" stroke="#000" stroke-width="1"/>
<path d="M832.5,500 L832.5,503 A17.5,8 0 0 0 867.5,503 L867.5,500" fill="#f0f0f0" stroke="#000" stroke-width="1.6" stroke-linejoin="round" />
<ellipse cx="850.0" cy="500.0" rx="17.5" ry="8.0" transform="rotate(0.0 850.0 500.0)" fill="#f4f4f4" stroke="#000" stroke-width="1.8"/>
<ellipse cx="850.0" cy="500.0" rx="8.0" ry="4.5" transform="rotate(0.0 850.0 500.0)" fill="none" stroke="#555" stroke-width="1"/>
<ellipse cx="940.0" cy="720.0" rx="9.5" ry="14.5" transform="rotate(-30.0 940.0 720.0)" fill="none" stroke="#1a1a1a" stroke-width="1.6"/>
<ellipse cx="939.2" cy="720.4" rx="8.1" ry="12.3" transform="rotate(-30.0 939.2 720.4)" fill="none" stroke="#1a1a1a" stroke-width="1.2800000000000002"/>
<path d="M1002.0,701.9 L992.0,707.4 A16.0,9.6 60.0 0 1 976.0,679.6 L986.0,674.1 A16.0,9.6 60.0 0 1 1002.0,701.9 Z" fill="#d6d6d6" stroke="#000" stroke-width="1.8" stroke-linejoin="round" />
<ellipse cx="984.0" cy="693.5" rx="9.6" ry="16.0" transform="rotate(-30.0 984.0 693.5)" fill="#d6d6d6" stroke="#000" stroke-width="1.8"/>
<path d="M994.0,726.1 L990.0,728.4 A34.0,20.5 60.0 0 1 956.0,669.6 L960.0,667.3 A34.0,20.5 60.0 0 1 994.0,726.1 Z" fill="#d9d9d9" stroke="#000" stroke-width="1.8" stroke-linejoin="round" />
<ellipse cx="973.0" cy="699.0" rx="20.5" ry="34.0" transform="rotate(-30.0 973.0 699.0)" fill="#d9d9d9" stroke="#000" stroke-width="1.8"/>
<ellipse cx="972.8" cy="699.0" rx="8.0" ry="14.5" transform="rotate(-30.0 972.8 699.0)" fill="#cdcdcd" stroke="#000" stroke-width="1.8"/>
<ellipse cx="974.0" cy="698.3" rx="6.0" ry="11.5" transform="rotate(-30.0 974.0 698.3)" fill="none" stroke="#555" stroke-width="1"/>
<ellipse cx="1023.5" cy="671.0" rx="20.5" ry="33.0" transform="rotate(-30.0 1023.5 671.0)" fill="none" stroke="#000" stroke-width="1.9"/>
<ellipse cx="1022.0" cy="671.9" rx="17.8" ry="28.7" transform="rotate(-30.0 1022.0 671.9)" fill="none" stroke="#000" stroke-width="1.615"/>
<path d="M1096.5,604.5 A20.5,11.9 70.0 0 0 1110.5,643.1" fill="none" stroke="#444" stroke-width="1.0" stroke-linejoin="round" stroke-linecap="round"/>
<path d="M1096.5,604.5 A20.5,11.9 70.0 0 1 1110.5,643.1" fill="none" stroke="#000" stroke-width="2.3" stroke-linejoin="round" stroke-linecap="round"/>
<path d="M1095.8,607.6 A18.0,8.9 70.0 0 1 1108.2,641.6" fill="none" stroke="#777" stroke-width="1" stroke-linejoin="round" stroke-linecap="round"/>
<path d="M1090.5,607.9 A20.5,11.9 70.0 0 0 1104.5,646.5" fill="none" stroke="#444" stroke-width="1.0" stroke-linejoin="round" stroke-linecap="round"/>
<path d="M1090.5,607.9 A20.5,11.9 70.0 0 1 1104.5,646.5" fill="none" stroke="#000" stroke-width="2.3" stroke-linejoin="round" stroke-linecap="round"/>
<path d="M1089.9,611.0 A18.0,8.9 70.0 0 1 1102.2,645.0" fill="none" stroke="#777" stroke-width="1" stroke-linejoin="round" stroke-linecap="round"/>
<path d="M1084.5,611.3 A20.5,11.9 70.0 0 0 1098.6,649.9" fill="none" stroke="#444" stroke-width="1.0" stroke-linejoin="round" stroke-linecap="round"/>
<path d="M1084.5,611.3 A20.5,11.9 70.0 0 1 1098.6,649.9" fill="none" stroke="#000" stroke-width="2.3" stroke-linejoin="round" stroke-linecap="round"/>
<path d="M1083.9,614.4 A18.0,8.9 70.0 0 1 1096.2,648.4" fill="none" stroke="#777" stroke-width="1" stroke-linejoin="round" stroke-linecap="round"/>
<path d="M1078.6,614.7 A20.5,11.9 70.0 0 0 1092.6,653.3" fill="none" stroke="#444" stroke-width="1.0" stroke-linejoin="round" stroke-linecap="round"/>
<path d="M1078.6,614.7 A20.5,11.9 70.0 0 1 1092.6,653.3" fill="none" stroke="#000" stroke-width="2.3" stroke-linejoin="round" stroke-linecap="round"/>
<path d="M1077.9,617.8 A18.0,8.9 70.0 0 1 1090.2,651.8" fill="none" stroke="#777" stroke-width="1" stroke-linejoin="round" stroke-linecap="round"/>
<path d="M1072.6,618.1 A20.5,11.9 70.0 0 0 1086.6,656.7" fill="none" stroke="#444" stroke-width="1.0" stroke-linejoin="round" stroke-linecap="round"/>
<path d="M1072.6,618.1 A20.5,11.9 70.0 0 1 1086.6,656.7" fill="none" stroke="#000" stroke-width="2.3" stroke-linejoin="round" stroke-linecap="round"/>
<path d="M1071.9,621.2 A18.0,8.9 70.0 0 1 1084.3,655.2" fill="none" stroke="#777" stroke-width="1" stroke-linejoin="round" stroke-linecap="round"/>
<path d="M1066.6,621.5 A20.5,11.9 70.0 0 0 1080.6,660.1" fill="none" stroke="#444" stroke-width="1.0" stroke-linejoin="round" stroke-linecap="round"/>
<path d="M1066.6,621.5 A20.5,11.9 70.0 0 1 1080.6,660.1" fill="none" stroke="#000" stroke-width="2.3" stroke-linejoin="round" stroke-linecap="round"/>
<path d="M1066.0,624.6 A18.0,8.9 70.0 0 1 1078.3,658.6" fill="none" stroke="#777" stroke-width="1" stroke-linejoin="round" stroke-linecap="round"/>
<path d="M1060.6,624.9 A20.5,11.9 70.0 0 0 1074.7,663.5" fill="none" stroke="#444" stroke-width="1.0" stroke-linejoin="round" stroke-linecap="round"/>
<path d="M1060.6,624.9 A20.5,11.9 70.0 0 1 1074.7,663.5" fill="none" stroke="#000" stroke-width="2.3" stroke-linejoin="round" stroke-linecap="round"/>
<path d="M1060.0,628.0 A18.0,8.9 70.0 0 1 1072.3,662.0" fill="none" stroke="#777" stroke-width="1" stroke-linejoin="round" stroke-linecap="round"/>
<path d="M1054.7,628.3 A20.5,11.9 70.0 0 0 1068.7,666.9" fill="none" stroke="#444" stroke-width="1.0" stroke-linejoin="round" stroke-linecap="round"/>
<path d="M1054.7,628.3 A20.5,11.9 70.0 0 1 1068.7,666.9" fill="none" stroke="#000" stroke-width="2.3" stroke-linejoin="round" stroke-linecap="round"/>
<path d="M1054.0,631.4 A18.0,8.9 70.0 0 1 1066.3,665.4" fill="none" stroke="#777" stroke-width="1" stroke-linejoin="round" stroke-linecap="round"/>
<ellipse cx="1055.7" cy="651.0" rx="11.9" ry="20.5" transform="rotate(-20.0 1055.7 651.0)" fill="none" stroke="#000" stroke-width="2.3"/>
<ellipse cx="1056.9" cy="650.3" rx="9.5" ry="17.6" transform="rotate(-20.0 1056.9 650.3)" fill="none" stroke="#666" stroke-width="1"/>
<path d="M1184.2,546.4 A27.0,15.7 70.0 0 0 1202.6,597.2" fill="none" stroke="#444" stroke-width="1.0" stroke-linejoin="round" stroke-linecap="round"/>
<path d="M1184.2,546.4 A27.0,15.7 70.0 0 1 1202.6,597.2" fill="none" stroke="#000" stroke-width="2.3" stroke-linejoin="round" stroke-linecap="round"/>
<path d="M1183.8,550.3 A23.8,11.8 70.0 0 1 1200.0,594.9" fill="none" stroke="#777" stroke-width="1" stroke-linejoin="round" stroke-linecap="round"/>
<path d="M1175.1,551.6 A27.0,15.7 70.0 0 0 1193.6,602.3" fill="none" stroke="#444" stroke-width="1.0" stroke-linejoin="round" stroke-linecap="round"/>
<path d="M1175.1,551.6 A27.0,15.7 70.0 0 1 1193.6,602.3" fill="none" stroke="#000" stroke-width="2.3" stroke-linejoin="round" stroke-linecap="round"/>
<path d="M1174.7,555.4 A23.8,11.8 70.0 0 1 1191.0,600.1" fill="none" stroke="#777" stroke-width="1" stroke-linejoin="round" stroke-linecap="round"/>
<path d="M1166.1,556.8 A27.0,15.7 70.0 0 0 1184.5,607.5" fill="none" stroke="#444" stroke-width="1.0" stroke-linejoin="round" stroke-linecap="round"/>
<path d="M1166.1,556.8 A27.0,15.7 70.0 0 1 1184.5,607.5" fill="none" stroke="#000" stroke-width="2.3" stroke-linejoin="round" stroke-linecap="round"/>
<path d="M1165.7,560.6 A23.8,11.8 70.0 0 1 1181.9,605.3" fill="none" stroke="#777" stroke-width="1" stroke-linejoin="round" stroke-linecap="round"/>
<path d="M1157.0,561.9 A27.0,15.7 70.0 0 0 1175.5,612.7" fill="none" stroke="#444" stroke-width="1.0" stroke-linejoin="round" stroke-linecap="round"/>
<path d="M1157.0,561.9 A27.0,15.7 70.0 0 1 1175.5,612.7" fill="none" stroke="#000" stroke-width="2.3" stroke-linejoin="round" stroke-linecap="round"/>
<path d="M1156.6,565.8 A23.8,11.8 70.0 0 1 1172.9,610.4" fill="none" stroke="#777" stroke-width="1" stroke-linejoin="round" stroke-linecap="round"/>
<path d="M1147.9,567.1 A27.0,15.7 70.0 0 0 1166.4,617.9" fill="none" stroke="#444" stroke-width="1.0" stroke-linejoin="round" stroke-linecap="round"/>
<path d="M1147.9,567.1 A27.0,15.7 70.0 0 1 1166.4,617.9" fill="none" stroke="#000" stroke-width="2.3" stroke-linejoin="round" stroke-linecap="round"/>
<path d="M1147.5,571.0 A23.8,11.8 70.0 0 1 1163.8,615.6" fill="none" stroke="#777" stroke-width="1" stroke-linejoin="round" stroke-linecap="round"/>
<path d="M1138.9,572.3 A27.0,15.7 70.0 0 0 1157.3,623.0" fill="none" stroke="#444" stroke-width="1.0" stroke-linejoin="round" stroke-linecap="round"/>
<path d="M1138.9,572.3 A27.0,15.7 70.0 0 1 1157.3,623.0" fill="none" stroke="#000" stroke-width="2.3" stroke-linejoin="round" stroke-linecap="round"/>
<path d="M1138.5,576.1 A23.8,11.8 70.0 0 1 1154.7,620.8" fill="none" stroke="#777" stroke-width="1" stroke-linejoin="round" stroke-linecap="round"/>
<path d="M1129.8,577.5 A27.0,15.7 70.0 0 0 1148.3,628.2" fill="none" stroke="#444" stroke-width="1.0" stroke-linejoin="round" stroke-linecap="round"/>
<path d="M1129.8,577.5 A27.0,15.7 70.0 0 1 1148.3,628.2" fill="none" stroke="#000" stroke-width="2.3" stroke-linejoin="round" stroke-linecap="round"/>
<path d="M1129.4,581.3 A23.8,11.8 70.0 0 1 1145.7,626.0" fill="none" stroke="#777" stroke-width="1" stroke-linejoin="round" stroke-linecap="round"/>
<ellipse cx="1130.0" cy="608.0" rx="15.7" ry="27.0" transform="rotate(-20.0 1130.0 608.0)" fill="none" stroke="#000" stroke-width="2.3"/>
<ellipse cx="1131.2" cy="607.3" rx="12.6" ry="23.2" transform="rotate(-20.0 1131.2 607.3)" fill="none" stroke="#666" stroke-width="1"/>
<path d="M1270.5,570.1 L1264.5,573.6 A33.0,20.0 60.0 0 1 1231.5,516.4 L1237.5,512.9 A33.0,20.0 60.0 0 1 1270.5,570.1 Z" fill="#a9a9a9" stroke="#000" stroke-width="1.8" stroke-linejoin="round" />
<ellipse cx="1248.0" cy="545.0" rx="20.0" ry="33.0" transform="rotate(-30.0 1248.0 545.0)" fill="#ababab" stroke="#000" stroke-width="1.8"/>
<ellipse cx="1244.0" cy="547.0" rx="13.5" ry="23.0" transform="rotate(-30.0 1244.0 547.0)" fill="#a2a2a2" stroke="#000" stroke-width="1"/>
<ellipse cx="1242.0" cy="548.0" rx="11.5" ry="20.0" transform="rotate(-30.0 1242.0 548.0)" fill="none" stroke="#444" stroke-width="1"/>
<path d="M1248.0,560.1 L1231.0,569.7 A14.0,8.6 60.0 0 1 1217.0,545.5 L1234.0,535.9 A14.0,8.6 60.0 0 1 1248.0,560.1 Z" fill="#9c9c9c" stroke="#000" stroke-width="1.8" stroke-linejoin="round" />
<ellipse cx="1224.0" cy="557.6" rx="8.6" ry="14.0" transform="rotate(-30.0 1224.0 557.6)" fill="#d2d2d2" stroke="#000" stroke-width="1.8"/>
<path d="M1357.8,505.1 L1349.8,509.6 A21.5,13.0 60.0 0 1 1328.2,472.4 L1336.2,467.9 A21.5,13.0 60.0 0 1 1357.8,505.1 Z" fill="#a8a8a8" stroke="#000" stroke-width="1.8" stroke-linejoin="round" />
<ellipse cx="1339.0" cy="491.0" rx="13.0" ry="21.5" transform="rotate(-30.0 1339.0 491.0)" fill="#acacac" stroke="#000" stroke-width="1.8"/>
<ellipse cx="1337.0" cy="492.5" rx="9.0" ry="15.0" transform="rotate(-30.0 1337.0 492.5)" fill="none" stroke="#333" stroke-width="1"/>
<path d="M1342.2,504.2 L1287.8,535.6 A12.5,7.6 60.0 0 1 1275.3,514.0 L1329.8,482.6 A12.5,7.6 60.0 0 1 1342.2,504.2 Z" fill="#8f8f8f" stroke="#000" stroke-width="1.8" stroke-linejoin="round" />
<ellipse cx="1281.6" cy="524.8" rx="7.6" ry="12.5" transform="rotate(-30.0 1281.6 524.8)" fill="#a9a9a9" stroke="#000" stroke-width="1.8"/>
<ellipse cx="1281.6" cy="524.8" rx="3.8" ry="6.0" transform="rotate(-30.0 1281.6 524.8)" fill="#e0e0e0" stroke="#000" stroke-width="1.2"/>
<path d="M1459.0,429.7 L1369.4,481.2 A6.0,3.6 60.0 0 1 1363.4,470.8 L1453.0,419.3 A6.0,3.6 60.0 0 1 1459.0,429.7 Z" fill="#d0d0d0" stroke="#000" stroke-width="1.6" stroke-linejoin="round" />
<ellipse cx="1366.4" cy="476.0" rx="3.6" ry="6.0" transform="rotate(-30.0 1366.4 476.0)" fill="#d6d6d6" stroke="#000" stroke-width="1.6"/>
<path d="M1373.0,479.2 A6,3.6 60 0 1 1367.0,468.8" fill="none" stroke="#444" stroke-width="1" stroke-linejoin="round" />
<path d="M1377.8,476.4 A6,3.6 60 0 1 1371.8,466.1" fill="none" stroke="#444" stroke-width="1" stroke-linejoin="round" />
<path d="M1382.5,473.7 A6,3.6 60 0 1 1376.5,463.3" fill="none" stroke="#444" stroke-width="1" stroke-linejoin="round" />
<path d="M1387.3,470.9 A6,3.6 60 0 1 1381.3,460.6" fill="none" stroke="#444" stroke-width="1" stroke-linejoin="round" />
<path d="M1392.1,468.2 A6,3.6 60 0 1 1386.1,457.8" fill="none" stroke="#444" stroke-width="1" stroke-linejoin="round" />
<path d="M1396.8,465.4 A6,3.6 60 0 1 1390.8,455.1" fill="none" stroke="#444" stroke-width="1" stroke-linejoin="round" />
<path d="M1401.6,462.7 A6,3.6 60 0 1 1395.6,452.3" fill="none" stroke="#444" stroke-width="1" stroke-linejoin="round" />
<path d="M1468.7,430.8 L1462.2,434.3 A12.5,7.8 60.0 0 1 1449.8,412.7 L1456.2,409.2 A12.5,7.8 60.0 0 1 1468.7,430.8 Z" fill="#cdcdcd" stroke="#000" stroke-width="1.6" stroke-linejoin="round" />
<ellipse cx="1456.0" cy="423.5" rx="7.8" ry="12.5" transform="rotate(-30.0 1456.0 423.5)" fill="#d4d4d4" stroke="#000" stroke-width="1.6"/>
<ellipse cx="1462.4" cy="420.0" rx="27.0" ry="44.0" transform="rotate(-30.0 1462.4 420.0)" fill="none" stroke="#000" stroke-width="2.4"/>
<ellipse cx="1462.4" cy="420.0" rx="25.3" ry="42.0" transform="rotate(-30.0 1462.4 420.0)" fill="none" stroke="#555" stroke-width="1"/>
<ellipse cx="1034.0" cy="772.7" rx="13.0" ry="21.5" transform="rotate(-30.0 1034.0 772.7)" fill="none" stroke="#000" stroke-width="1.9"/>
<ellipse cx="1032.9" cy="773.3" rx="11.0" ry="18.3" transform="rotate(-30.0 1032.9 773.3)" fill="none" stroke="#000" stroke-width="1.615"/>
<ellipse cx="1059.8" cy="756.4" rx="14.0" ry="23.5" transform="rotate(-30.0 1059.8 756.4)" fill="none" stroke="#000" stroke-width="1.9"/>
<ellipse cx="1058.6" cy="757.1" rx="11.9" ry="20.0" transform="rotate(-30.0 1058.6 757.1)" fill="none" stroke="#000" stroke-width="1.615"/>
<path d="M1137.1,739.8 L1111.1,754.8 A24.0,14.4 60.0 0 1 1087.1,713.2 L1113.1,698.2 A24.0,14.4 60.0 0 1 1137.1,739.8 Z" fill="#a3a3a3" stroke="#000" stroke-width="1.9" stroke-linejoin="round" />
<path d="M1101.0,705.2 A24.0,14.4 60.0 0 1 1125.0,746.8" fill="none" stroke="#444" stroke-width="1" stroke-linejoin="round" stroke-linecap="round"/>
<path d="M1092.3,710.2 A24.0,14.4 60.0 0 1 1116.3,751.8" fill="none" stroke="#444" stroke-width="1" stroke-linejoin="round" stroke-linecap="round"/>
<path d="M1109.1,751.3 L1097.0,758.3 A20.0,12.0 60.0 0 1 1077.0,723.7 L1089.1,716.7 A20.0,12.0 60.0 0 1 1109.1,751.3 Z" fill="#a0a0a0" stroke="#000" stroke-width="1.9" stroke-linejoin="round" />
<path d="M1081.3,721.2 A20.0,12.0 60.0 0 1 1101.3,755.8" fill="none" stroke="#333" stroke-width="1" stroke-linejoin="round" stroke-linecap="round"/>
<path d="M1084.8,719.2 A20.0,12.0 60.0 0 1 1104.8,753.8" fill="none" stroke="#333" stroke-width="1" stroke-linejoin="round" stroke-linecap="round"/>
<ellipse cx="1087.0" cy="741.0" rx="12.0" ry="20.0" transform="rotate(-30.0 1087.0 741.0)" fill="#a8a8a8" stroke="#000" stroke-width="1.9"/>
<ellipse cx="1088.0" cy="741.0" rx="6.6" ry="11.0" transform="rotate(-30.0 1088.0 741.0)" fill="#9a9a9a" stroke="#000" stroke-width="1.6"/>
<ellipse cx="1086.5" cy="741.8" rx="3.6" ry="6.0" transform="rotate(-30.0 1086.5 741.8)" fill="#dedede" stroke="none" stroke-width="1"/>
<ellipse cx="1179.5" cy="688.8" rx="19.0" ry="31.5" transform="rotate(-30.0 1179.5 688.8)" fill="none" stroke="#000" stroke-width="1.9"/>
<ellipse cx="1178.2" cy="689.6" rx="16.7" ry="27.7" transform="rotate(-30.0 1178.2 689.6)" fill="none" stroke="#000" stroke-width="1.615"/>
<path d="M1266.1,672.8 L1248.8,682.8 A31.0,18.6 60.0 0 1 1217.8,629.2 L1235.1,619.2 A31.0,18.6 60.0 0 1 1266.1,672.8 Z" fill="#a3a3a3" stroke="#000" stroke-width="1.8" stroke-linejoin="round" />
<path d="M1226.5,624.2 A31.0,18.6 60.0 0 1 1257.5,677.8" fill="none" stroke="#444" stroke-width="1" stroke-linejoin="round" stroke-linecap="round"/>
<path d="M1251.3,675.1 L1228.8,688.1 A25.5,15.3 60.0 0 1 1203.2,643.9 L1225.8,630.9 A25.5,15.3 60.0 0 1 1251.3,675.1 Z" fill="#a6a6a6" stroke="#000" stroke-width="1.8" stroke-linejoin="round" />
<path d="M1210.2,639.9 A25.5,15.3 60.0 0 1 1235.7,684.1" fill="none" stroke="#333" stroke-width="1" stroke-linejoin="round" stroke-linecap="round"/>
<path d="M1214.5,637.4 A25.5,15.3 60.0 0 1 1240.0,681.6" fill="none" stroke="#333" stroke-width="1" stroke-linejoin="round" stroke-linecap="round"/>
<path d="M1218.8,634.9 A25.5,15.3 60.0 0 1 1244.3,679.1" fill="none" stroke="#333" stroke-width="1" stroke-linejoin="round" stroke-linecap="round"/>
<path d="M1223.2,632.4 A25.5,15.3 60.0 0 1 1248.7,676.6" fill="none" stroke="#333" stroke-width="1" stroke-linejoin="round" stroke-linecap="round"/>
<ellipse cx="1216.0" cy="666.0" rx="15.3" ry="25.5" transform="rotate(-30.0 1216.0 666.0)" fill="#d0d0d0" stroke="#000" stroke-width="1.8"/>
<polygon points="1488.4,315.1 1494.7,310.9 1556.2,274.1 1561.9,274.8 1575.3,283.3 1577.4,286.9 1577.4,290.4 1588.7,294.6 1611.4,281.9 1622.7,284.7 1632.6,293.9 1641.0,308.1 1643.2,323.6 1641.8,334.9 1642.5,347.6 1638.9,359.0 1634.0,367.4 1634.7,396.4 1634.0,407.0 1569.0,443.8 1567.5,448.0 1560.5,448.0 1512.4,414.1 1495.4,407.0 1482.7,395.7 1481.3,384.4 1488.4,377.3 1491.2,353.3 1488.4,323.6" fill="#ffff00" stroke="#000" stroke-width="2.2" stroke-linejoin="round" />
<polyline points="1617.0,315.1 1625.5,312.3 1638.9,330.7 1641.8,334.9" fill="none" stroke="#000" stroke-width="1.8" stroke-linejoin="round" stroke-linecap="round" />
<polyline points="1617.0,315.1 1624.1,327.9 1629.7,343.4 1632.6,359.0 1634.0,367.4" fill="none" stroke="#000" stroke-width="1.8" stroke-linejoin="round" stroke-linecap="round" />
<polyline points="1512.4,325.0 1576.0,288.3" fill="none" stroke="#333" stroke-width="1" stroke-linejoin="round" stroke-linecap="round" stroke-dasharray="10 6"/>
<polyline points="1513.8,319.4 1575.3,284.0" fill="none" stroke="#333" stroke-width="1" stroke-linejoin="round" stroke-linecap="round" stroke-dasharray="14 8"/>
<polyline points="1569.0,433.9 1634.0,395.7" fill="none" stroke="#333" stroke-width="1" stroke-linejoin="round" stroke-linecap="round" stroke-dasharray="14 8"/>
<polyline points="1569.0,426.8 1634.0,390.1" fill="none" stroke="#333" stroke-width="1" stroke-linejoin="round" stroke-linecap="round" stroke-dasharray="10 6"/>
<polygon points="1488.4,315.1 1494.7,311.6 1512.4,326.4 1529.4,334.9 1549.2,350.5 1560.5,367.4 1566.1,383.0 1567.5,401.4 1567.5,448.0 1560.5,448.0 1512.4,414.1 1495.4,407.0 1482.7,395.7 1481.3,384.4 1488.4,377.3 1491.2,353.3 1488.4,323.6" fill="#d5d5d5" stroke="#000" stroke-width="2" stroke-linejoin="round" />
<path d="M1498.3,359.0 C1499.7,354.0 1503.0,349.3 1506.8,346.2 C1510.5,343.2 1515.9,340.8 1520.9,340.6 C1525.8,340.3 1531.7,342.2 1536.4,344.8 C1541.2,347.4 1545.9,351.4 1549.2,356.1 C1552.5,360.8 1554.8,366.7 1556.2,373.1 C1557.6,379.5 1558.1,388.2 1557.6,394.3 C1557.2,400.4 1556.2,405.8 1553.4,409.8 C1550.6,413.8 1546.1,417.4 1540.7,418.3 C1535.3,419.3 1528.0,417.9 1520.9,415.5 C1513.8,413.1 1504.2,408.0 1498.3,404.2 C1492.4,400.4 1487.8,396.2 1485.5,392.9 C1483.3,389.6 1483.9,386.6 1484.8,384.4 C1485.8,382.2 1489.0,380.9 1491.2,379.5 C1493.4,378.0 1497.1,379.3 1498.3,375.9 C1499.5,372.5 1496.9,363.9 1498.3,359.0 Z" fill="#d0d0d0" stroke="#000" stroke-width="1.6" stroke-linejoin="round" />
<ellipse cx="1528.7" cy="383.0" rx="24.5" ry="34.0" transform="rotate(-22.0 1528.7 383.0)" fill="#cdcdcd" stroke="#000" stroke-width="1.8"/>
<path d="M1503.9,384.4 L1502.5,373.1 L1506.8,359.0" fill="none" stroke="#333" stroke-width="1" stroke-linejoin="round" />
<line x1="1484.0" y1="405.5" x2="1550.0" y2="367.5" stroke="#fff" stroke-width="2.6" />
<line x1="1484.0" y1="405.5" x2="1550.0" y2="367.5" stroke="#333" stroke-width="1.1" stroke-dasharray="13 5"/>
<line x1="1538.0" y1="449.0" x2="1566.0" y2="433.0" stroke="#fff" stroke-width="2.2" />
<line x1="1538.0" y1="449.0" x2="1566.0" y2="433.0" stroke="#333" stroke-width="1.1" stroke-dasharray="9 4"/>
<ellipse cx="1497.6" cy="327.1" rx="5.0" ry="6.5" transform="rotate(-20.0 1497.6 327.1)" fill="#fff" stroke="#000" stroke-width="1.8"/>
<ellipse cx="1560.5" cy="434.6" rx="5.0" ry="6.5" transform="rotate(-20.0 1560.5 434.6)" fill="#fff" stroke="#000" stroke-width="1.8"/>
<ellipse cx="1667.4" cy="291.5" rx="12.6" ry="21.0" transform="rotate(-30.0 1667.4 291.5)" fill="#fff" stroke="#000" stroke-width="2.2"/>
<ellipse cx="1665.4" cy="292.6" rx="8.4" ry="14.0" transform="rotate(-30.0 1665.4 292.6)" fill="none" stroke="#000" stroke-width="2"/>
<path d="M1722.0,284.8 L1713.0,289.8 A20.0,12.0 60.0 0 1 1693.0,255.2 L1702.0,250.2 A20.0,12.0 60.0 0 1 1722.0,284.8 Z" fill="#bdbdbd" stroke="#000" stroke-width="1.8" stroke-linejoin="round" />
<ellipse cx="1703.0" cy="272.5" rx="12.0" ry="20.0" transform="rotate(-30.0 1703.0 272.5)" fill="#c4c4c4" stroke="#000" stroke-width="1.8"/>
<polyline points="1696.0,256.0 1700.0,262.0 1700.0,288.0" fill="none" stroke="#444" stroke-width="1" stroke-linejoin="round" stroke-linecap="round" />
<polyline points="1714.0,262.0 1716.0,282.0" fill="none" stroke="#444" stroke-width="1" stroke-linejoin="round" stroke-linecap="round" />
<path d="M1710.2,282.8 L1696.2,291.0 A12.5,7.5 60.0 0 1 1683.8,269.4 L1697.8,261.2 A12.5,7.5 60.0 0 1 1710.2,282.8 Z" fill="#b9b9b9" stroke="#000" stroke-width="1.8" stroke-linejoin="round" />
<path d="M1687.2,267.4 A12.5,7.5 60.0 0 1 1699.7,289.0" fill="none" stroke="#333" stroke-width="1" stroke-linejoin="round" stroke-linecap="round"/>
<path d="M1690.7,265.4 A12.5,7.5 60.0 0 1 1703.2,287.0" fill="none" stroke="#333" stroke-width="1" stroke-linejoin="round" stroke-linecap="round"/>
<path d="M1694.1,263.4 A12.5,7.5 60.0 0 1 1706.6,285.0" fill="none" stroke="#333" stroke-width="1" stroke-linejoin="round" stroke-linecap="round"/>
<ellipse cx="1690.0" cy="280.2" rx="7.5" ry="12.5" transform="rotate(-30.0 1690.0 280.2)" fill="#cbcbcb" stroke="#000" stroke-width="1.8"/>
<path d="M1742.6,298.9 L1707.5,319.3 A8.0,4.8 60.0 0 1 1699.5,305.5 L1734.6,285.1 A8.0,4.8 60.0 0 1 1742.6,298.9 Z" fill="#f2f2f2" stroke="#000" stroke-width="1.8" stroke-linejoin="round" />
<ellipse cx="1703.5" cy="312.4" rx="4.8" ry="8.0" transform="rotate(-30.0 1703.5 312.4)" fill="#f4f4f4" stroke="#000" stroke-width="1.8"/>
<path d="M1710.0,317.9 A8,4.8 60 0 1 1702.0,304.1" fill="none" stroke="#333" stroke-width="1" stroke-linejoin="round" />
<path d="M1713.8,315.7 A8,4.8 60 0 1 1705.8,301.9" fill="none" stroke="#333" stroke-width="1" stroke-linejoin="round" />
<path d="M1717.6,313.5 A8,4.8 60 0 1 1709.6,299.7" fill="none" stroke="#333" stroke-width="1" stroke-linejoin="round" />
<path d="M1721.4,311.3 A8,4.8 60 0 1 1713.4,297.5" fill="none" stroke="#333" stroke-width="1" stroke-linejoin="round" />
<path d="M1725.2,309.1 A8,4.8 60 0 1 1717.2,295.3" fill="none" stroke="#333" stroke-width="1" stroke-linejoin="round" />
<path d="M1729.1,306.9 A8,4.8 60 0 1 1721.1,293.1" fill="none" stroke="#333" stroke-width="1" stroke-linejoin="round" />
<path d="M1732.9,304.7 A8,4.8 60 0 1 1724.9,290.9" fill="none" stroke="#333" stroke-width="1" stroke-linejoin="round" />
<path d="M1736.7,302.5 A8,4.8 60 0 1 1728.7,288.7" fill="none" stroke="#333" stroke-width="1" stroke-linejoin="round" />
<path d="M1740.5,300.3 A8,4.8 60 0 1 1732.5,286.5" fill="none" stroke="#333" stroke-width="1" stroke-linejoin="round" />
<path d="M1788.0,284.9 L1779.0,290.1 A18.0,10.8 60.0 0 1 1761.0,258.9 L1770.0,253.7 A18.0,10.8 60.0 0 1 1788.0,284.9 Z" fill="#c0c0c0" stroke="#000" stroke-width="1.8" stroke-linejoin="round" />
<polyline points="1778.0,259.0 1782.0,266.0 1784.0,286.0" fill="none" stroke="#444" stroke-width="1" stroke-linejoin="round" stroke-linecap="round" />
<path d="M1780.2,291.8 L1775.7,294.4 A20.4,12.2 60.0 0 1 1755.3,259.0 L1759.8,256.4 A20.4,12.2 60.0 0 1 1780.2,291.8 Z" fill="#c4c4c4" stroke="#000" stroke-width="1.8" stroke-linejoin="round" />
<ellipse cx="1765.5" cy="276.7" rx="12.2" ry="20.4" transform="rotate(-30.0 1765.5 276.7)" fill="#c8c8c8" stroke="#000" stroke-width="1.8"/>
<ellipse cx="1764.5" cy="277.5" rx="4.8" ry="8.0" transform="rotate(-30.0 1764.5 277.5)" fill="#e6e6e6" stroke="#000" stroke-width="1.3"/>
<path d="M1790.2,324.8 L1783.2,328.8 A12.5,7.5 60.0 0 1 1770.8,307.2 L1777.8,303.2 A12.5,7.5 60.0 0 1 1790.2,324.8 Z" fill="#c9c9c9" stroke="#000" stroke-width="1.8" stroke-linejoin="round" />
<path d="M1780.8,324.5 L1687.5,376.5 A7.5,4.5 60.0 0 1 1680.0,363.5 L1773.2,311.5 A7.5,4.5 60.0 0 1 1780.8,324.5 Z" fill="#c6c6c6" stroke="#000" stroke-width="1.8" stroke-linejoin="round" />
<ellipse cx="1683.7" cy="370.0" rx="4.5" ry="7.5" transform="rotate(-30.0 1683.7 370.0)" fill="#cbcbcb" stroke="#000" stroke-width="1.8"/>
<path d="M1690.7,374.5 A7.5,4.5 60 0 1 1683.3,361.5" fill="none" stroke="#333" stroke-width="1" stroke-linejoin="round" />
<path d="M1694.7,372.2 A7.5,4.5 60 0 1 1687.3,359.2" fill="none" stroke="#333" stroke-width="1" stroke-linejoin="round" />
<path d="M1698.7,369.9 A7.5,4.5 60 0 1 1691.3,356.9" fill="none" stroke="#333" stroke-width="1" stroke-linejoin="round" />
<path d="M1702.7,367.6 A7.5,4.5 60 0 1 1695.3,354.6" fill="none" stroke="#333" stroke-width="1" stroke-linejoin="round" />
<path d="M1706.6,365.3 A7.5,4.5 60 0 1 1699.2,352.3" fill="none" stroke="#333" stroke-width="1" stroke-linejoin="round" />
<path d="M1710.6,363.0 A7.5,4.5 60 0 1 1703.2,350.0" fill="none" stroke="#333" stroke-width="1" stroke-linejoin="round" />
<path d="M1714.6,360.7 A7.5,4.5 60 0 1 1707.2,347.7" fill="none" stroke="#333" stroke-width="1" stroke-linejoin="round" />
<path d="M1718.6,358.4 A7.5,4.5 60 0 1 1711.2,345.4" fill="none" stroke="#333" stroke-width="1" stroke-linejoin="round" />
<path d="M1722.6,356.1 A7.5,4.5 60 0 1 1715.2,343.1" fill="none" stroke="#333" stroke-width="1" stroke-linejoin="round" />
<ellipse cx="1665.6" cy="381.0" rx="7.2" ry="12.0" transform="rotate(-30.0 1665.6 381.0)" fill="#fff" stroke="#000" stroke-width="2"/>
<ellipse cx="1664.6" cy="382.0" rx="3.3" ry="5.5" transform="rotate(-30.0 1664.6 382.0)" fill="none" stroke="#000" stroke-width="1.5"/>
<line x1="695.0" y1="852.8" x2="550.0" y2="935.7" stroke="#333" stroke-width="1.1" stroke-dasharray="13 7"/>
<line x1="662.6" y1="887.0" x2="550.0" y2="951.4" stroke="#333" stroke-width="1.1" stroke-dasharray="13 7"/>
<line x1="665.9" y1="927.6" x2="539.0" y2="999.0" stroke="#333" stroke-width="1.1" stroke-dasharray="13 7"/>
<line x1="688.6" y1="942.2" x2="604.0" y2="990.0" stroke="#333" stroke-width="1.1" stroke-dasharray="13 7"/>
<line x1="667.5" y1="955.2" x2="552.0" y2="1020.0" stroke="#333" stroke-width="1.1" stroke-dasharray="13 7"/>
<line x1="695.0" y1="999.0" x2="528.6" y2="1092.6" stroke="#333" stroke-width="1.1" stroke-dasharray="13 7"/>
<line x1="459.4" y1="879.5" x2="470.3" y2="871.7" stroke="#333" stroke-width="1.1" stroke-dasharray="13 7"/>
<line x1="495.0" y1="857.7" x2="512.2" y2="848.4" stroke="#333" stroke-width="1.1" stroke-dasharray="13 7"/>
<line x1="330.4" y1="1048.6" x2="401.9" y2="1005.9" stroke="#333" stroke-width="1.1" stroke-dasharray="13 7"/>
<line x1="423.6" y1="993.4" x2="457.8" y2="974.8" stroke="#333" stroke-width="1.1" stroke-dasharray="13 7"/>
<line x1="363.0" y1="1065.7" x2="384.8" y2="1052.5" stroke="#333" stroke-width="1.1" stroke-dasharray="13 7"/>
<line x1="440.0" y1="1020.6" x2="468.7" y2="1004.3" stroke="#333" stroke-width="1.1" stroke-dasharray="13 7"/>
<line x1="471.0" y1="1126.3" x2="484.3" y2="1118.6" stroke="#333" stroke-width="1.1" stroke-dasharray="13 7"/>
<line x1="504.5" y1="1107.7" x2="520.0" y2="1099.0" stroke="#333" stroke-width="1.1" stroke-dasharray="13 7"/>
<polyline points="512.2,848.4 512.2,958.8" fill="none" stroke="#333" stroke-width="1.1" stroke-linejoin="round" stroke-linecap="round" stroke-dasharray="16 6"/>
<path d="M452.6,949.5 C453.3,947.1 454.8,943.7 459.3,940.6 C463.8,937.6 493.3,921.4 497.9,919.1 C502.5,916.8 503.4,917.5 505.3,917.6 C507.2,917.8 513.5,918.9 517.2,920.6 C520.9,922.3 539.1,932.7 542.4,934.7 C545.7,936.7 548.9,939.3 549.8,940.6 C550.7,942.0 551.6,946.6 551.6,948.0 C551.6,949.5 550.7,953.5 549.8,955.5 C548.9,957.4 543.6,965.3 542.4,967.3 C541.2,969.4 538.5,974.2 538.0,976.2 C537.4,978.3 536.8,985.6 536.8,988.1 C536.8,990.6 537.2,999.4 538.0,1001.5 C538.7,1003.5 542.6,1006.8 543.9,1008.9 C545.1,1011.0 549.7,1018.5 550.6,1022.2 C551.5,1026.0 552.6,1038.4 552.8,1046.0 C553.0,1053.6 553.1,1092.3 552.8,1097.9 C552.5,1103.6 551.9,1101.5 549.8,1102.4 C547.7,1103.3 534.4,1107.0 532.0,1107.1 C529.6,1107.3 529.0,1107.2 526.1,1103.9 C523.1,1100.6 505.9,1077.5 502.3,1074.2 C498.8,1070.9 492.7,1072.3 490.5,1071.2 C488.2,1070.2 481.7,1065.9 480.1,1063.8 C478.4,1061.7 474.8,1053.7 474.1,1050.4 C473.5,1047.2 473.8,1034.3 473.4,1031.2 C472.9,1028.0 470.8,1021.1 469.7,1019.3 C468.6,1017.4 463.4,1014.5 462.3,1012.6 C461.1,1010.7 458.0,1002.1 457.8,1000.0 C457.7,997.8 460.9,993.2 460.8,991.1 C460.6,989.0 457.1,981.9 456.3,979.2 C455.5,976.5 453.0,967.3 452.6,964.4 C452.2,961.4 451.9,951.9 452.6,949.5 Z" fill="#d3d3d3" stroke="#000" stroke-width="2" stroke-linejoin="round" />
<polyline points="477.8,992.6 509.8,974.8 538.0,955.5" fill="none" stroke="#222" stroke-width="1.2" stroke-linejoin="round" stroke-linecap="round" />
<polyline points="505.3,917.6 509.8,930.2 523.1,937.7" fill="none" stroke="#222" stroke-width="1" stroke-linejoin="round" stroke-linecap="round" />
<polyline points="509.8,974.8 503.8,988.1 497.9,1008.9 503.8,1022.2" fill="none" stroke="#222" stroke-width="1" stroke-linejoin="round" stroke-linecap="round" />
<polyline points="523.1,961.4 520.1,982.2 521.6,1007.4" fill="none" stroke="#222" stroke-width="1" stroke-linejoin="round" stroke-linecap="round" />
<polyline points="532.0,967.3 527.6,982.2 529.0,1004.4" fill="none" stroke="#222" stroke-width="1" stroke-linejoin="round" stroke-linecap="round" />
<polyline points="484.5,1017.8 503.8,1008.9 529.0,1007.4 538.0,1001.5" fill="none" stroke="#222" stroke-width="1" stroke-linejoin="round" stroke-linecap="round" />
<polyline points="502.3,1074.2 536.5,1053.4 539.4,1043.0" fill="none" stroke="#222" stroke-width="1.2" stroke-linejoin="round" stroke-linecap="round" />
<polyline points="539.4,1043.0 539.4,1097.9" fill="none" stroke="#222" stroke-width="1" stroke-linejoin="round" stroke-linecap="round" />
<ellipse cx="471.9" cy="966.1" rx="20.5" ry="23.5" transform="rotate(-25.0 471.9 966.1)" fill="#d6d6d6" stroke="#000" stroke-width="1.6"/>
<ellipse cx="471.9" cy="967.3" rx="11.1" ry="15.6" transform="rotate(-22.0 471.9 967.3)" fill="#fff" stroke="#000" stroke-width="2"/>
<ellipse cx="473.4" cy="968.1" rx="8.0" ry="12.0" transform="rotate(-22.0 473.4 968.1)" fill="none" stroke="#888" stroke-width="1"/>
<ellipse cx="493.4" cy="1046.7" rx="19.7" ry="24.5" transform="rotate(-25.0 493.4 1046.7)" fill="#d6d6d6" stroke="#000" stroke-width="1.6"/>
<ellipse cx="493.4" cy="1046.7" rx="11.9" ry="15.6" transform="rotate(-22.0 493.4 1046.7)" fill="#fff" stroke="#000" stroke-width="2"/>
<ellipse cx="494.9" cy="1047.5" rx="8.5" ry="12.0" transform="rotate(-22.0 494.9 1047.5)" fill="none" stroke="#888" stroke-width="1"/>
<ellipse cx="531.3" cy="949.5" rx="4.5" ry="6.0" transform="rotate(-20.0 531.3 949.5)" fill="#fff" stroke="#000" stroke-width="1.8"/>
<ellipse cx="529.0" cy="1093.5" rx="5.0" ry="6.5" transform="rotate(-20.0 529.0 1093.5)" fill="#fff" stroke="#000" stroke-width="1.8"/>
<ellipse cx="469.7" cy="1001.5" rx="8.5" ry="10.0" transform="rotate(-20.0 469.7 1001.5)" fill="#e4e4e4" stroke="#000" stroke-width="1.8"/>
<ellipse cx="470.4" cy="1002.2" rx="4.5" ry="5.5" transform="rotate(-20.0 470.4 1002.2)" fill="#fff" stroke="#000" stroke-width="1.3"/>
<line x1="512.2" y1="848.4" x2="512.2" y2="958.8" stroke="#fff" stroke-width="2.2" />
<polyline points="512.2,848.4 512.2,958.8" fill="none" stroke="#333" stroke-width="1.1" stroke-linejoin="round" stroke-linecap="round" stroke-dasharray="16 6"/>
<path d="M460.9,886.0 L430.9,903.5 A5.8,3.5 60.0 0 1 425.1,893.5 L455.1,876.0 A5.8,3.5 60.0 0 1 460.9,886.0 Z" fill="#f4f4f4" stroke="#000" stroke-width="1.5" stroke-linejoin="round" />
<path d="M428.1,891.8 A5.8,3.5 60.0 0 1 433.9,901.8" fill="none" stroke="#333" stroke-width="0.9" stroke-linejoin="round" stroke-linecap="round"/>
<path d="M432.4,889.3 A5.8,3.5 60.0 0 1 438.2,899.3" fill="none" stroke="#333" stroke-width="0.9" stroke-linejoin="round" stroke-linecap="round"/>
<path d="M436.8,886.8 A5.8,3.5 60.0 0 1 442.6,896.8" fill="none" stroke="#333" stroke-width="0.9" stroke-linejoin="round" stroke-linecap="round"/>
<path d="M441.1,884.3 A5.8,3.5 60.0 0 1 446.9,894.3" fill="none" stroke="#333" stroke-width="0.9" stroke-linejoin="round" stroke-linecap="round"/>
<path d="M445.4,881.8 A5.8,3.5 60.0 0 1 451.2,891.8" fill="none" stroke="#333" stroke-width="0.9" stroke-linejoin="round" stroke-linecap="round"/>
<path d="M449.8,879.3 A5.8,3.5 60.0 0 1 455.5,889.3" fill="none" stroke="#333" stroke-width="0.9" stroke-linejoin="round" stroke-linecap="round"/>
<path d="M432.8,908.8 L423.8,913.8 A11.5,7.0 60.0 0 1 412.2,893.8 L421.2,888.8 A11.5,7.0 60.0 0 1 432.8,908.8 Z" fill="#f4f4f4" stroke="#000" stroke-width="1.7" stroke-linejoin="round" />
<ellipse cx="418.0" cy="903.8" rx="7.0" ry="11.5" transform="rotate(-30.0 418.0 903.8)" fill="#f8f8f8" stroke="#000" stroke-width="1.7"/>
<ellipse cx="418.0" cy="903.8" rx="3.4" ry="5.5" transform="rotate(-30.0 418.0 903.8)" fill="none" stroke="#555" stroke-width="1"/>
<ellipse cx="484.3" cy="864.0" rx="8.7" ry="14.5" transform="rotate(-30.0 484.3 864.0)" fill="#fff" stroke="#000" stroke-width="2"/>
<ellipse cx="483.0" cy="865.0" rx="3.6" ry="6.0" transform="rotate(-30.0 483.0 865.0)" fill="none" stroke="#000" stroke-width="1.3"/>
<path d="M327.6,1067.1 L299.0,1083.6 A14.5,8.7 60.0 0 1 284.5,1058.4 L313.1,1041.9 A14.5,8.7 60.0 0 1 327.6,1067.1 Z" fill="#b5b5b5" stroke="#000" stroke-width="1.8" stroke-linejoin="round" />
<path d="M289.7,1055.4 A14.5,8.7 60.0 0 1 304.2,1080.6" fill="none" stroke="#333" stroke-width="1" stroke-linejoin="round" stroke-linecap="round"/>
<path d="M294.9,1052.4 A14.5,8.7 60.0 0 1 309.4,1077.6" fill="none" stroke="#333" stroke-width="1" stroke-linejoin="round" stroke-linecap="round"/>
<path d="M300.1,1049.4 A14.5,8.7 60.0 0 1 314.6,1074.6" fill="none" stroke="#333" stroke-width="1" stroke-linejoin="round" stroke-linecap="round"/>
<path d="M305.3,1046.4 A14.5,8.7 60.0 0 1 319.8,1071.6" fill="none" stroke="#333" stroke-width="1" stroke-linejoin="round" stroke-linecap="round"/>
<path d="M310.5,1043.4 A14.5,8.7 60.0 0 1 325.0,1068.6" fill="none" stroke="#333" stroke-width="1" stroke-linejoin="round" stroke-linecap="round"/>
<path d="M302.8,1090.1 L294.1,1095.1 A22.0,13.2 60.0 0 1 272.1,1056.9 L280.8,1051.9 A22.0,13.2 60.0 0 1 302.8,1090.1 Z" fill="#bdbdbd" stroke="#000" stroke-width="1.8" stroke-linejoin="round" />
<path d="M276.5,1054.4 A22.0,13.2 60.0 0 1 298.5,1092.6" fill="none" stroke="#444" stroke-width="1" stroke-linejoin="round" stroke-linecap="round"/>
<ellipse cx="283.1" cy="1076.0" rx="13.2" ry="22.0" transform="rotate(-30.0 283.1 1076.0)" fill="#c2c2c2" stroke="#000" stroke-width="1.8"/>
<path d="M289.9,1087.7 L277.8,1094.7 A13.5,8.1 60.0 0 1 264.2,1071.3 L276.4,1064.3 A13.5,8.1 60.0 0 1 289.9,1087.7 Z" fill="#b3b3b3" stroke="#000" stroke-width="1.8" stroke-linejoin="round" />
<path d="M267.7,1069.3 A13.5,8.1 60.0 0 1 281.2,1092.7" fill="none" stroke="#333" stroke-width="1" stroke-linejoin="round" stroke-linecap="round"/>
<path d="M271.2,1067.3 A13.5,8.1 60.0 0 1 284.7,1090.7" fill="none" stroke="#333" stroke-width="1" stroke-linejoin="round" stroke-linecap="round"/>
<path d="M274.6,1065.3 A13.5,8.1 60.0 0 1 288.1,1088.7" fill="none" stroke="#333" stroke-width="1" stroke-linejoin="round" stroke-linecap="round"/>
<ellipse cx="271.0" cy="1083.0" rx="8.1" ry="13.5" transform="rotate(-30.0 271.0 1083.0)" fill="#d0d0d0" stroke="#000" stroke-width="1.8"/>
<ellipse cx="364.6" cy="1027.6" rx="12.0" ry="19.4" transform="rotate(-30.0 364.6 1027.6)" fill="none" stroke="#000" stroke-width="1.9"/>
<ellipse cx="363.6" cy="1028.2" rx="10.2" ry="16.5" transform="rotate(-30.0 363.6 1028.2)" fill="none" stroke="#000" stroke-width="1.615"/>
<path d="M421.6,1006.1 L408.4,1013.9 A9.3,5.6 60.0 0 1 399.2,997.7 L412.4,989.9 A9.3,5.6 60.0 0 1 421.6,1006.1 Z" fill="#f0f0f0" stroke="#000" stroke-width="1.8" stroke-linejoin="round" />
<ellipse cx="403.8" cy="1005.8" rx="5.6" ry="9.3" transform="rotate(-30.0 403.8 1005.8)" fill="#f4f4f4" stroke="#000" stroke-width="1.8"/>
<ellipse cx="403.5" cy="1006.0" rx="2.4" ry="4.0" transform="rotate(-30.0 403.5 1006.0)" fill="none" stroke="#000" stroke-width="1.2"/>
<path d="M442.2,1027.0 L386.2,1058.6 A6.5,3.9 60.0 0 1 379.8,1047.4 L435.8,1015.8 A6.5,3.9 60.0 0 1 442.2,1027.0 Z" fill="#f2f2f2" stroke="#000" stroke-width="1.7" stroke-linejoin="round" />
<ellipse cx="383.0" cy="1053.0" rx="3.9" ry="6.5" transform="rotate(-30.0 383.0 1053.0)" fill="#f4f4f4" stroke="#000" stroke-width="1.7"/>
<path d="M390.2,1056.6 A6.5,3.9 60 0 1 383.8,1045.4" fill="none" stroke="#333" stroke-width="1" stroke-linejoin="round" />
<path d="M395.0,1053.8 A6.5,3.9 60 0 1 388.6,1042.6" fill="none" stroke="#333" stroke-width="1" stroke-linejoin="round" />
<path d="M399.9,1051.0 A6.5,3.9 60 0 1 393.5,1039.8" fill="none" stroke="#333" stroke-width="1" stroke-linejoin="round" />
<path d="M404.7,1048.2 A6.5,3.9 60 0 1 398.3,1037.0" fill="none" stroke="#333" stroke-width="1" stroke-linejoin="round" />
<path d="M409.6,1045.4 A6.5,3.9 60 0 1 403.2,1034.2" fill="none" stroke="#333" stroke-width="1" stroke-linejoin="round" />
<path d="M414.4,1042.6 A6.5,3.9 60 0 1 408.0,1031.4" fill="none" stroke="#333" stroke-width="1" stroke-linejoin="round" />
<path d="M419.3,1039.8 A6.5,3.9 60 0 1 412.9,1028.6" fill="none" stroke="#333" stroke-width="1" stroke-linejoin="round" />
<path d="M424.1,1037.0 A6.5,3.9 60 0 1 417.7,1025.8" fill="none" stroke="#333" stroke-width="1" stroke-linejoin="round" />
<path d="M429.0,1034.2 A6.5,3.9 60 0 1 422.6,1023.0" fill="none" stroke="#333" stroke-width="1" stroke-linejoin="round" />
<path d="M433.8,1031.4 A6.5,3.9 60 0 1 427.4,1020.2" fill="none" stroke="#333" stroke-width="1" stroke-linejoin="round" />
<path d="M438.7,1028.6 A6.5,3.9 60 0 1 432.3,1017.4" fill="none" stroke="#333" stroke-width="1" stroke-linejoin="round" />
<path d="M362.5,1081.5 L356.5,1085.0 A15.0,9.0 60.0 0 1 341.5,1059.0 L347.5,1055.5 A15.0,9.0 60.0 0 1 362.5,1081.5 Z" fill="#e2e2e2" stroke="#000" stroke-width="1.8" stroke-linejoin="round" />
<ellipse cx="349.0" cy="1072.0" rx="9.0" ry="15.0" transform="rotate(-30.0 349.0 1072.0)" fill="#e8e8e8" stroke="#000" stroke-width="1.8"/>
<ellipse cx="348.0" cy="1073.0" rx="3.6" ry="6.0" transform="rotate(-30.0 348.0 1073.0)" fill="#f0f0f0" stroke="#000" stroke-width="1.2"/>
<path d="M471.9,1132.0 L442.9,1148.5 A5.8,3.5 60.0 0 1 437.1,1138.5 L466.1,1122.0 A5.8,3.5 60.0 0 1 471.9,1132.0 Z" fill="#f4f4f4" stroke="#000" stroke-width="1.5" stroke-linejoin="round" />
<path d="M440.1,1136.8 A5.8,3.5 60.0 0 1 445.9,1146.8" fill="none" stroke="#333" stroke-width="0.9" stroke-linejoin="round" stroke-linecap="round"/>
<path d="M444.4,1134.3 A5.8,3.5 60.0 0 1 450.2,1144.3" fill="none" stroke="#333" stroke-width="0.9" stroke-linejoin="round" stroke-linecap="round"/>
<path d="M448.8,1131.8 A5.8,3.5 60.0 0 1 454.6,1141.8" fill="none" stroke="#333" stroke-width="0.9" stroke-linejoin="round" stroke-linecap="round"/>
<path d="M453.1,1129.3 A5.8,3.5 60.0 0 1 458.9,1139.3" fill="none" stroke="#333" stroke-width="0.9" stroke-linejoin="round" stroke-linecap="round"/>
<path d="M457.4,1126.8 A5.8,3.5 60.0 0 1 463.2,1136.8" fill="none" stroke="#333" stroke-width="0.9" stroke-linejoin="round" stroke-linecap="round"/>
<path d="M461.8,1124.3 A5.8,3.5 60.0 0 1 467.5,1134.3" fill="none" stroke="#333" stroke-width="0.9" stroke-linejoin="round" stroke-linecap="round"/>
<path d="M444.8,1154.0 L435.8,1159.0 A11.5,7.0 60.0 0 1 424.2,1139.0 L433.2,1134.0 A11.5,7.0 60.0 0 1 444.8,1154.0 Z" fill="#f4f4f4" stroke="#000" stroke-width="1.7" stroke-linejoin="round" />
<ellipse cx="430.0" cy="1149.0" rx="7.0" ry="11.5" transform="rotate(-30.0 430.0 1149.0)" fill="#f8f8f8" stroke="#000" stroke-width="1.7"/>
<ellipse cx="430.0" cy="1149.0" rx="3.4" ry="5.5" transform="rotate(-30.0 430.0 1149.0)" fill="none" stroke="#555" stroke-width="1"/>
<ellipse cx="495.0" cy="1112.3" rx="9.0" ry="15.0" transform="rotate(-30.0 495.0 1112.3)" fill="#fff" stroke="#000" stroke-width="2"/>
<ellipse cx="494.0" cy="1113.0" rx="3.6" ry="6.0" transform="rotate(-30.0 494.0 1113.0)" fill="none" stroke="#000" stroke-width="1.3"/>
<ellipse cx="604.0" cy="921.3" rx="17.0" ry="28.9" transform="rotate(-30.0 604.0 921.3)" fill="none" stroke="#3a3a3a" stroke-width="1.5"/>
<ellipse cx="603.2" cy="921.8" rx="15.6" ry="26.6" transform="rotate(-30.0 603.2 921.8)" fill="none" stroke="#3a3a3a" stroke-width="1.2000000000000002"/>
<polygon points="567.0,938.0 572.0,930.0 581.0,930.0 587.0,937.0 586.0,948.0 579.0,955.0 569.0,953.0 565.0,945.0" fill="#f2f2f2" stroke="#000" stroke-width="2" stroke-linejoin="round" />
<polyline points="572.0,930.0 576.0,937.0 586.0,937.0" fill="none" stroke="#555" stroke-width="1" stroke-linejoin="round" stroke-linecap="round" />
<polyline points="576.0,937.0 579.0,955.0" fill="none" stroke="#555" stroke-width="1" stroke-linejoin="round" stroke-linecap="round" />
<ellipse cx="573.0" cy="944.0" rx="3.4" ry="5.0" transform="rotate(-30.0 573.0 944.0)" fill="#e0e0e0" stroke="#333" stroke-width="1.2"/>
<ellipse cx="570.0" cy="982.5" rx="8.5" ry="13.5" transform="rotate(-30.0 570.0 982.5)" fill="none" stroke="#3a3a3a" stroke-width="1.5"/>
<ellipse cx="569.3" cy="982.9" rx="7.2" ry="11.5" transform="rotate(-30.0 569.3 982.9)" fill="none" stroke="#3a3a3a" stroke-width="1.2000000000000002"/>
<ellipse cx="593.0" cy="996.0" rx="8.5" ry="13.5" transform="rotate(-30.0 593.0 996.0)" fill="none" stroke="#3a3a3a" stroke-width="1.5"/>
<ellipse cx="592.3" cy="996.4" rx="7.2" ry="11.5" transform="rotate(-30.0 592.3 996.4)" fill="none" stroke="#3a3a3a" stroke-width="1.2000000000000002"/>
<ellipse cx="571.5" cy="1009.4" rx="8.5" ry="13.5" transform="rotate(-30.0 571.5 1009.4)" fill="none" stroke="#3a3a3a" stroke-width="1.5"/>
<ellipse cx="570.8" cy="1009.8" rx="7.2" ry="11.5" transform="rotate(-30.0 570.8 1009.8)" fill="none" stroke="#3a3a3a" stroke-width="1.2000000000000002"/>
<g style="filter:grayscale(1)">
<text x="108.5" y="90.2" font-size="26" font-weight="bold">CONTROL UNIT / MANÖVERENHET</text>
<text x="853.4" y="88.8" font-size="24" font-weight="bold">3222 3029 58</text>
<text x="1249.2" y="89.0" font-size="24" font-weight="normal">IMPACT/TRAMMING</text>
<text x="1627.8" y="1213.2" font-size="28" font-weight="normal">1250 0029 71</text>
<text x="963.9" y="1289.0" font-size="24" font-weight="normal">450</text>
<text x="103.8" y="1264.6" font-size="17" font-weight="normal">B0011251</text>
<text transform="translate(37.27 1346.01) scale(0.9851 0.9680)" font-size="77" font-weight="normal">by AtlasCopco</text>
<text x="737.5" y="321.8" font-size="24" font-weight="normal">88</text>
<text x="734.9" y="433.1" font-size="24" font-weight="normal">45</text>
<text x="735.5" y="482.8" font-size="24" font-weight="normal">47</text>
<text x="734.9" y="535.8" font-size="24" font-weight="normal">48</text>
<text x="1181.7" y="446.3" font-size="24" font-weight="normal">132</text>
<text x="1116.1" y="482.4" font-size="24" font-weight="normal">133</text>
<text x="1060.5" y="513.8" font-size="24" font-weight="normal">134</text>
<text x="1009.1" y="546.8" font-size="24" font-weight="normal">135</text>
<text x="951.7" y="577.8" font-size="24" font-weight="normal">132</text>
<text x="909.6" y="609.8" font-size="24" font-weight="normal">136</text>
<text x="1296.0" y="738.8" font-size="24" font-weight="normal">60</text>
<text x="1243.2" y="769.3" font-size="24" font-weight="normal">59</text>
<text x="1146.5" y="821.5" font-size="24" font-weight="normal">57</text>
<text x="1103.2" y="842.3" font-size="24" font-weight="normal">56</text>
<text x="1059.4" y="867.6" font-size="24" font-weight="normal">55</text>
<text x="1408.7" y="313.4" font-size="24" font-weight="normal">137</text>
<text x="1360.7" y="344.8" font-size="24" font-weight="normal">139</text>
<text x="1307.6" y="369.6" font-size="24" font-weight="normal">138</text>
<text x="1246.9" y="409.8" font-size="24" font-weight="normal">131</text>
<text x="1766.7" y="207.8" font-size="24" font-weight="normal">64</text>
<text x="1640.7" y="218.8" font-size="24" font-weight="normal">30</text>
<text x="1724.0" y="234.2" font-size="24" font-weight="normal">65</text>
<text x="1594.1" y="238.3" font-size="24" font-weight="normal">23</text>
<text x="1742.9" y="405.6" font-size="24" font-weight="normal">140</text>
<text x="1661.5" y="453.6" font-size="24" font-weight="normal">101</text>
<text x="427.4" y="816.2" font-size="24" font-weight="normal">101</text>
<text x="371.8" y="848.3" font-size="24" font-weight="normal">155</text>
<text x="355.1" y="934.6" font-size="24" font-weight="normal">151</text>
<text x="301.4" y="962.0" font-size="24" font-weight="normal">23</text>
<text x="231.9" y="998.5" font-size="24" font-weight="normal">152</text>
<text x="385.4" y="1112.4" font-size="24" font-weight="normal">158</text>
<text x="331.4" y="1150.3" font-size="24" font-weight="normal">157</text>
<text x="561.2" y="828.4" font-size="24" font-weight="normal">156</text>
<text x="523.6" y="858.0" font-size="24" font-weight="normal">106</text>
<text x="648.1" y="1075.8" font-size="24" font-weight="normal">69</text>
<text x="638.9" y="1119.7" font-size="24" font-weight="normal">154</text>
<text x="600.2" y="1142.8" font-size="24" font-weight="normal">101</text>
<text x="561.2" y="1166.3" font-size="24" font-weight="normal">155</text>
<text x="205.6" y="471.6" font-size="33" font-weight="bold">A</text>
<text x="528.3" y="658.1" font-size="35" font-weight="normal">A</text>
</g>
</svg>
</body></html>
